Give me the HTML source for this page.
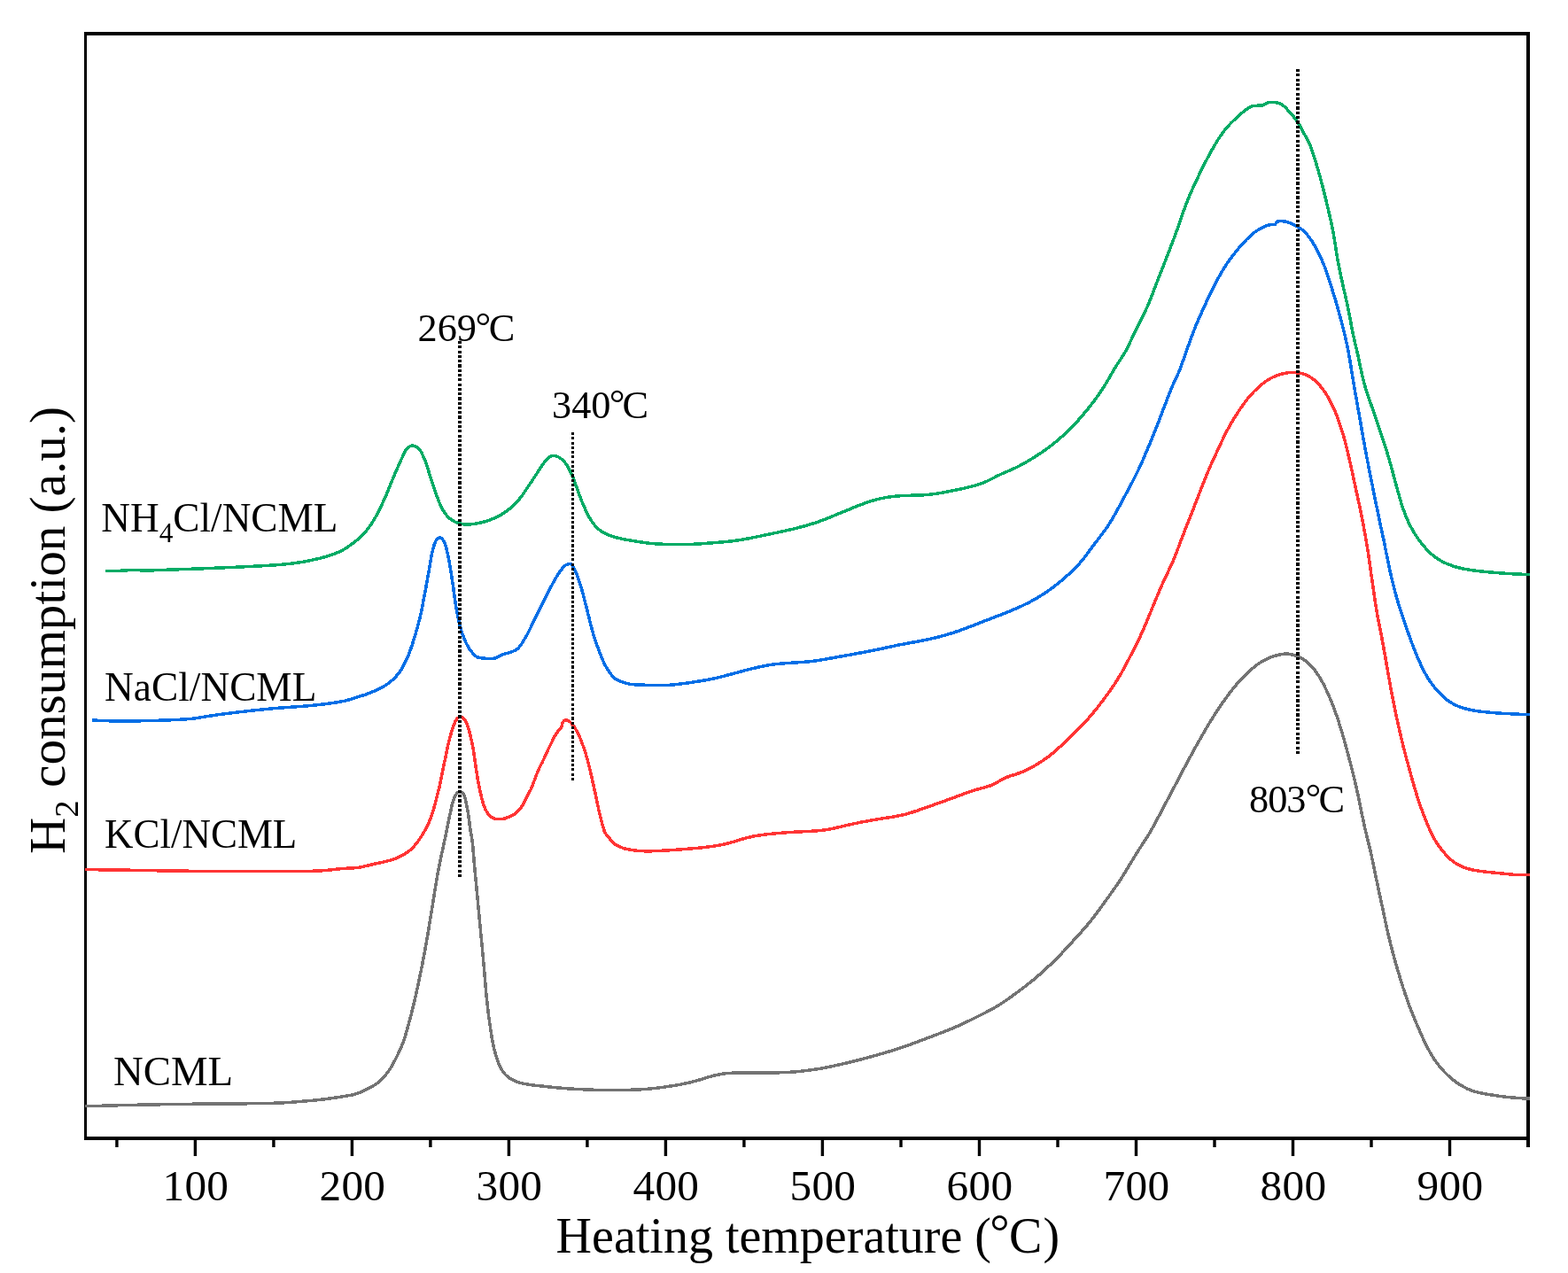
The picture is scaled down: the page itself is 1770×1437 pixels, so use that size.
<!DOCTYPE html>
<html lang="en"><head><meta charset="utf-8"><title>H2-TPR profiles</title>
<style>
html,body{margin:0;padding:0;background:#fff;}
body{width:1770px;height:1437px;overflow:hidden;}
svg{display:block;}
text{font-family:"Liberation Serif",serif;fill:#000;}
.tick{font-size:49.3px;text-anchor:middle;letter-spacing:0.3px;}
</style></head><body>
<svg width="1770" height="1437" viewBox="0 0 1770 1437">
<rect x="0" y="0" width="1770" height="1437" fill="#fff"/>

<g fill="#000">
<rect x="95" y="36" width="3" height="1251"/>
<rect x="95" y="36" width="1632" height="4"/>
<rect x="1723" y="36" width="4" height="1259"/>
<rect x="95" y="1283" width="1632" height="4"/>
<rect x="218.7" y="1285" width="3.4" height="20"/>
<rect x="395.7" y="1285" width="3.4" height="20"/>
<rect x="572.7" y="1285" width="3.4" height="20"/>
<rect x="749.7" y="1285" width="3.4" height="20"/>
<rect x="926.7" y="1285" width="3.4" height="20"/>
<rect x="1103.8" y="1285" width="3.4" height="20"/>
<rect x="1280.8" y="1285" width="3.4" height="20"/>
<rect x="1457.8" y="1285" width="3.4" height="20"/>
<rect x="1634.8" y="1285" width="3.4" height="20"/>
<rect x="130.2" y="1285" width="3.4" height="10"/>
<rect x="307.2" y="1285" width="3.4" height="10"/>
<rect x="484.2" y="1285" width="3.4" height="10"/>
<rect x="661.2" y="1285" width="3.4" height="10"/>
<rect x="838.2" y="1285" width="3.4" height="10"/>
<rect x="1015.3" y="1285" width="3.4" height="10"/>
<rect x="1192.3" y="1285" width="3.4" height="10"/>
<rect x="1369.3" y="1285" width="3.4" height="10"/>
<rect x="1546.3" y="1285" width="3.4" height="10"/>
</g>
<defs><clipPath id="plotclip"><rect x="96" y="36" width="1631" height="1251"/></clipPath></defs>
<g fill="none" stroke-width="3.5" stroke-linejoin="round" stroke-linecap="butt" shape-rendering="crispEdges" clip-path="url(#plotclip)">
<path stroke="#737373" d="M94.0,1248.8 L96.0,1248.7 L98.0,1248.7 L100.0,1248.6 L102.0,1248.6 L104.0,1248.5 L106.0,1248.5 L108.0,1248.4 L110.0,1248.4 L112.0,1248.3 L114.0,1248.3 L116.0,1248.2 L118.0,1248.1 L120.0,1248.1 L122.0,1248.0 L124.0,1248.0 L126.0,1247.9 L128.0,1247.9 L130.0,1247.8 L132.0,1247.8 L134.0,1247.7 L136.0,1247.7 L138.0,1247.7 L140.0,1247.6 L142.0,1247.6 L144.0,1247.5 L146.0,1247.5 L148.0,1247.4 L150.0,1247.4 L152.0,1247.3 L154.0,1247.3 L156.0,1247.2 L158.0,1247.2 L160.0,1247.2 L162.0,1247.1 L164.0,1247.1 L166.0,1247.0 L168.0,1247.0 L170.0,1247.0 L172.0,1246.9 L174.0,1246.9 L176.0,1246.8 L178.0,1246.8 L180.0,1246.8 L182.0,1246.7 L184.0,1246.7 L186.0,1246.7 L188.0,1246.6 L190.0,1246.6 L192.0,1246.6 L194.0,1246.5 L196.0,1246.5 L198.0,1246.5 L200.0,1246.5 L202.0,1246.4 L204.0,1246.4 L206.0,1246.4 L208.0,1246.3 L210.0,1246.3 L212.0,1246.3 L214.0,1246.3 L216.0,1246.3 L218.0,1246.2 L220.0,1246.2 L222.0,1246.2 L224.0,1246.2 L226.0,1246.2 L228.0,1246.1 L230.0,1246.1 L232.0,1246.1 L234.0,1246.1 L236.0,1246.1 L238.0,1246.1 L240.0,1246.1 L242.0,1246.0 L244.0,1246.0 L246.0,1246.0 L248.0,1246.0 L250.0,1246.0 L252.0,1246.0 L254.0,1246.0 L256.0,1246.0 L258.0,1245.9 L260.0,1245.9 L262.0,1245.9 L264.0,1245.9 L266.0,1245.9 L268.0,1245.9 L270.0,1245.8 L272.0,1245.8 L274.0,1245.8 L276.0,1245.8 L278.0,1245.8 L280.0,1245.7 L282.0,1245.7 L284.0,1245.7 L286.0,1245.7 L288.0,1245.7 L290.0,1245.6 L292.0,1245.6 L294.0,1245.6 L296.0,1245.5 L298.0,1245.5 L300.0,1245.5 L302.0,1245.4 L304.0,1245.4 L306.0,1245.3 L308.0,1245.3 L310.0,1245.2 L312.0,1245.2 L314.0,1245.1 L316.0,1245.0 L318.0,1244.9 L320.0,1244.8 L322.0,1244.7 L323.9,1244.6 L325.9,1244.4 L327.9,1244.3 L329.9,1244.2 L331.9,1244.0 L333.9,1243.9 L335.9,1243.7 L337.9,1243.6 L339.9,1243.4 L341.9,1243.2 L343.9,1243.1 L345.9,1242.9 L347.9,1242.7 L349.9,1242.5 L351.9,1242.4 L353.8,1242.2 L355.8,1242.0 L357.8,1241.8 L359.8,1241.6 L361.8,1241.3 L363.8,1241.1 L365.8,1240.9 L367.8,1240.6 L369.7,1240.3 L371.7,1240.1 L373.7,1239.8 L375.7,1239.5 L377.7,1239.2 L379.6,1238.9 L381.6,1238.6 L383.6,1238.3 L385.6,1238.0 L387.5,1237.7 L389.5,1237.3 L391.5,1237.0 L393.5,1236.7 L395.4,1236.3 L397.4,1236.0 L399.3,1235.5 L401.3,1235.0 L403.2,1234.4 L405.0,1233.7 L406.9,1232.9 L408.7,1232.1 L410.5,1231.3 L412.3,1230.4 L414.1,1229.5 L415.9,1228.7 L417.7,1227.7 L419.5,1226.8 L421.2,1225.8 L422.9,1224.8 L424.6,1223.7 L426.2,1222.5 L427.8,1221.3 L429.3,1220.0 L430.7,1218.6 L432.1,1217.1 L433.5,1215.7 L434.7,1214.1 L436.0,1212.6 L437.2,1211.0 L438.4,1209.4 L439.5,1207.7 L440.6,1206.1 L441.7,1204.4 L442.7,1202.6 L443.7,1200.9 L444.6,1199.1 L445.6,1197.4 L446.5,1195.6 L447.4,1193.8 L448.3,1192.0 L449.2,1190.2 L450.0,1188.4 L450.9,1186.6 L451.7,1184.8 L452.5,1182.9 L453.2,1181.1 L454.0,1179.2 L454.7,1177.4 L455.4,1175.5 L456.1,1173.6 L456.7,1171.7 L457.3,1169.8 L457.9,1167.9 L458.5,1166.0 L459.0,1164.1 L459.6,1162.1 L460.1,1160.2 L460.6,1158.3 L461.2,1156.3 L461.7,1154.4 L462.2,1152.5 L462.7,1150.6 L463.2,1148.6 L463.8,1146.7 L464.3,1144.8 L464.7,1142.8 L465.2,1140.9 L465.7,1138.9 L466.2,1137.0 L466.7,1135.0 L467.1,1133.1 L467.6,1131.2 L468.1,1129.2 L468.5,1127.3 L469.0,1125.3 L469.4,1123.4 L469.8,1121.4 L470.3,1119.5 L470.7,1117.5 L471.1,1115.5 L471.5,1113.6 L472.0,1111.6 L472.4,1109.7 L472.8,1107.7 L473.2,1105.8 L473.6,1103.8 L474.0,1101.8 L474.4,1099.9 L474.8,1097.9 L475.2,1096.0 L475.6,1094.0 L476.0,1092.0 L476.4,1090.1 L476.8,1088.1 L477.1,1086.2 L477.5,1084.2 L477.9,1082.2 L478.3,1080.3 L478.6,1078.3 L479.0,1076.3 L479.4,1074.4 L479.8,1072.4 L480.1,1070.4 L480.5,1068.5 L480.8,1066.5 L481.2,1064.5 L481.5,1062.6 L481.9,1060.6 L482.2,1058.6 L482.6,1056.7 L482.9,1054.7 L483.2,1052.7 L483.6,1050.7 L483.9,1048.8 L484.2,1046.8 L484.5,1044.8 L484.8,1042.8 L485.2,1040.9 L485.5,1038.9 L485.8,1036.9 L486.1,1034.9 L486.4,1033.0 L486.7,1031.0 L487.1,1029.0 L487.4,1027.0 L487.7,1025.1 L488.0,1023.1 L488.4,1021.1 L488.7,1019.2 L489.0,1017.2 L489.3,1015.2 L489.6,1013.2 L490.0,1011.3 L490.3,1009.3 L490.6,1007.3 L490.9,1005.3 L491.2,1003.4 L491.6,1001.4 L491.9,999.4 L492.2,997.4 L492.5,995.5 L492.9,993.5 L493.2,991.5 L493.5,989.5 L493.9,987.6 L494.2,985.6 L494.6,983.6 L495.0,981.7 L495.3,979.7 L495.7,977.7 L496.1,975.8 L496.5,973.8 L496.9,971.9 L497.3,969.9 L497.7,968.0 L498.1,966.0 L498.6,964.0 L499.0,962.1 L499.4,960.1 L499.8,958.2 L500.3,956.2 L500.7,954.3 L501.1,952.3 L501.5,950.4 L501.9,948.4 L502.4,946.4 L502.8,944.5 L503.2,942.5 L503.6,940.6 L504.0,938.6 L504.4,936.7 L504.8,934.7 L505.2,932.7 L505.6,930.8 L506.0,928.8 L506.4,926.9 L506.8,924.9 L507.2,922.9 L507.6,921.0 L508.0,919.0 L508.4,917.1 L508.8,915.1 L509.2,913.1 L509.7,911.2 L510.1,909.3 L510.6,907.3 L511.2,905.4 L511.8,903.5 L512.4,901.6 L513.1,899.7 L514.0,897.9 L515.1,896.3 L516.5,894.9 L518.1,893.9 L519.9,893.9 L521.6,894.8 L523.0,896.2 L524.0,897.8 L524.6,899.7 L525.1,901.6 L525.6,903.6 L526.0,905.5 L526.4,907.5 L526.8,909.5 L527.2,911.4 L527.6,913.4 L527.9,915.4 L528.3,917.3 L528.6,919.3 L528.9,921.3 L529.2,923.3 L529.5,925.2 L529.7,927.2 L530.0,929.2 L530.2,931.2 L530.5,933.2 L530.8,935.2 L531.0,937.1 L531.4,939.1 L531.7,941.1 L532.1,943.0 L532.4,945.0 L532.8,947.0 L533.0,949.0 L533.3,950.9 L533.5,952.9 L533.7,954.9 L533.9,956.9 L534.1,958.9 L534.2,960.9 L534.4,962.9 L534.6,964.9 L534.7,966.9 L534.9,968.9 L535.0,970.9 L535.2,972.9 L535.4,974.9 L535.5,976.8 L535.7,978.8 L535.9,980.8 L536.1,982.8 L536.3,984.8 L536.5,986.8 L536.6,988.8 L536.8,990.8 L537.0,992.8 L537.2,994.8 L537.4,996.8 L537.6,998.8 L537.8,1000.7 L538.0,1002.7 L538.2,1004.7 L538.3,1006.7 L538.5,1008.7 L538.7,1010.7 L538.9,1012.7 L539.1,1014.7 L539.3,1016.7 L539.5,1018.7 L539.7,1020.7 L539.8,1022.6 L540.0,1024.6 L540.2,1026.6 L540.4,1028.6 L540.6,1030.6 L540.8,1032.6 L541.0,1034.6 L541.2,1036.6 L541.3,1038.6 L541.5,1040.6 L541.7,1042.6 L541.9,1044.5 L542.1,1046.5 L542.3,1048.5 L542.5,1050.5 L542.7,1052.5 L542.8,1054.5 L543.0,1056.5 L543.2,1058.5 L543.4,1060.5 L543.6,1062.5 L543.8,1064.5 L544.0,1066.5 L544.2,1068.4 L544.4,1070.4 L544.5,1072.4 L544.7,1074.4 L544.9,1076.4 L545.1,1078.4 L545.3,1080.4 L545.5,1082.4 L545.7,1084.4 L545.8,1086.4 L546.0,1088.4 L546.2,1090.3 L546.4,1092.3 L546.5,1094.3 L546.7,1096.3 L546.9,1098.3 L547.0,1100.3 L547.2,1102.3 L547.4,1104.3 L547.5,1106.3 L547.7,1108.3 L547.9,1110.3 L548.0,1112.3 L548.2,1114.3 L548.4,1116.3 L548.6,1118.2 L548.7,1120.2 L548.9,1122.2 L549.1,1124.2 L549.3,1126.2 L549.5,1128.2 L549.7,1130.2 L550.0,1132.2 L550.2,1134.2 L550.4,1136.2 L550.6,1138.1 L550.9,1140.1 L551.1,1142.1 L551.3,1144.1 L551.6,1146.1 L551.8,1148.1 L552.1,1150.0 L552.4,1152.0 L552.6,1154.0 L552.9,1156.0 L553.2,1158.0 L553.5,1160.0 L553.8,1161.9 L554.1,1163.9 L554.4,1165.9 L554.7,1167.9 L555.0,1169.8 L555.3,1171.8 L555.7,1173.8 L556.1,1175.7 L556.5,1177.7 L556.9,1179.7 L557.3,1181.6 L557.7,1183.6 L558.2,1185.5 L558.7,1187.4 L559.2,1189.4 L559.8,1191.3 L560.4,1193.2 L561.0,1195.1 L561.7,1197.0 L562.3,1198.9 L563.0,1200.7 L563.8,1202.6 L564.6,1204.4 L565.6,1206.2 L566.6,1207.9 L567.7,1209.6 L568.9,1211.2 L570.2,1212.7 L571.6,1214.1 L573.1,1215.4 L574.7,1216.6 L576.4,1217.7 L578.1,1218.7 L579.9,1219.6 L581.7,1220.5 L583.5,1221.2 L585.4,1221.9 L587.3,1222.4 L589.3,1222.9 L591.2,1223.3 L593.2,1223.6 L595.2,1224.0 L597.1,1224.3 L599.1,1224.6 L601.1,1224.9 L603.1,1225.1 L605.1,1225.4 L607.1,1225.6 L609.1,1225.8 L611.0,1226.0 L613.0,1226.2 L615.0,1226.4 L617.0,1226.6 L619.0,1226.9 L621.0,1227.1 L623.0,1227.3 L625.0,1227.5 L627.0,1227.7 L628.9,1227.8 L630.9,1228.0 L632.9,1228.2 L634.9,1228.4 L636.9,1228.5 L638.9,1228.7 L640.9,1228.8 L642.9,1229.0 L644.9,1229.1 L646.9,1229.2 L648.9,1229.3 L650.9,1229.4 L652.9,1229.5 L654.9,1229.6 L656.9,1229.7 L658.9,1229.8 L660.9,1229.9 L662.9,1230.0 L664.9,1230.1 L666.9,1230.2 L668.9,1230.2 L670.9,1230.3 L672.9,1230.4 L674.9,1230.4 L676.9,1230.4 L678.9,1230.5 L680.9,1230.5 L682.9,1230.5 L684.9,1230.5 L686.9,1230.5 L688.9,1230.5 L690.9,1230.5 L692.9,1230.5 L694.9,1230.5 L696.9,1230.4 L698.9,1230.4 L700.9,1230.4 L702.9,1230.4 L704.9,1230.4 L706.9,1230.3 L708.9,1230.3 L710.9,1230.3 L712.9,1230.2 L714.9,1230.2 L716.9,1230.2 L718.9,1230.1 L720.9,1230.0 L722.9,1229.9 L724.9,1229.7 L726.8,1229.6 L728.8,1229.4 L730.8,1229.3 L732.8,1229.1 L734.8,1228.9 L736.8,1228.7 L738.8,1228.5 L740.8,1228.3 L742.8,1228.0 L744.8,1227.8 L746.7,1227.5 L748.7,1227.3 L750.7,1227.0 L752.7,1226.7 L754.7,1226.4 L756.6,1226.1 L758.6,1225.8 L760.6,1225.5 L762.6,1225.2 L764.5,1224.8 L766.5,1224.5 L768.5,1224.1 L770.4,1223.7 L772.4,1223.3 L774.3,1222.9 L776.3,1222.5 L778.2,1222.0 L780.2,1221.6 L782.1,1221.1 L784.0,1220.5 L786.0,1220.0 L787.9,1219.5 L789.8,1218.9 L791.7,1218.3 L793.6,1217.7 L795.5,1217.1 L797.4,1216.5 L799.4,1216.0 L801.3,1215.4 L803.2,1214.9 L805.1,1214.4 L807.1,1213.9 L809.0,1213.4 L811.0,1213.0 L812.9,1212.7 L814.9,1212.3 L816.9,1212.0 L818.8,1211.8 L820.8,1211.6 L822.8,1211.4 L824.8,1211.3 L826.8,1211.2 L828.8,1211.1 L830.8,1211.0 L832.8,1211.0 L834.8,1211.0 L836.8,1210.9 L838.8,1210.9 L840.8,1210.9 L842.8,1210.8 L844.8,1210.8 L846.8,1210.8 L848.8,1210.8 L850.8,1210.8 L852.8,1210.8 L854.8,1210.8 L856.8,1210.8 L858.8,1210.8 L860.8,1210.8 L862.8,1210.8 L864.8,1210.8 L866.8,1210.8 L868.8,1210.8 L870.8,1210.8 L872.8,1210.8 L874.8,1210.8 L876.8,1210.8 L878.8,1210.8 L880.8,1210.7 L882.8,1210.7 L884.8,1210.6 L886.8,1210.6 L888.8,1210.5 L890.8,1210.4 L892.8,1210.2 L894.8,1210.1 L896.8,1209.9 L898.8,1209.8 L900.7,1209.6 L902.7,1209.4 L904.7,1209.2 L906.7,1208.9 L908.7,1208.7 L910.7,1208.5 L912.7,1208.2 L914.6,1208.0 L916.6,1207.7 L918.6,1207.4 L920.6,1207.1 L922.6,1206.8 L924.5,1206.5 L926.5,1206.1 L928.5,1205.8 L930.4,1205.4 L932.4,1205.0 L934.4,1204.6 L936.3,1204.2 L938.3,1203.8 L940.2,1203.4 L942.2,1203.0 L944.1,1202.6 L946.1,1202.1 L948.0,1201.7 L950.0,1201.3 L951.9,1200.8 L953.9,1200.4 L955.8,1199.9 L957.8,1199.4 L959.7,1199.0 L961.7,1198.5 L963.6,1198.0 L965.6,1197.5 L967.5,1197.0 L969.4,1196.5 L971.4,1196.0 L973.3,1195.5 L975.2,1195.0 L977.2,1194.5 L979.1,1194.0 L981.0,1193.4 L982.9,1192.9 L984.9,1192.4 L986.8,1191.8 L988.7,1191.3 L990.6,1190.7 L992.6,1190.2 L994.5,1189.6 L996.4,1189.1 L998.3,1188.5 L1000.2,1187.9 L1002.2,1187.4 L1004.1,1186.8 L1006.0,1186.2 L1007.9,1185.6 L1009.8,1185.0 L1011.7,1184.4 L1013.6,1183.8 L1015.5,1183.1 L1017.4,1182.5 L1019.3,1181.9 L1021.2,1181.2 L1023.1,1180.6 L1025.0,1179.9 L1026.9,1179.3 L1028.7,1178.6 L1030.6,1177.9 L1032.5,1177.2 L1034.4,1176.5 L1036.3,1175.8 L1038.1,1175.1 L1040.0,1174.4 L1041.9,1173.7 L1043.8,1173.0 L1045.6,1172.3 L1047.5,1171.6 L1049.4,1170.9 L1051.2,1170.2 L1053.1,1169.5 L1055.0,1168.8 L1056.8,1168.0 L1058.7,1167.3 L1060.6,1166.6 L1062.4,1165.9 L1064.3,1165.2 L1066.2,1164.4 L1068.0,1163.7 L1069.9,1162.9 L1071.7,1162.2 L1073.6,1161.4 L1075.4,1160.7 L1077.3,1159.9 L1079.1,1159.1 L1080.9,1158.3 L1082.8,1157.5 L1084.6,1156.7 L1086.4,1155.9 L1088.2,1155.0 L1090.0,1154.2 L1091.8,1153.3 L1093.6,1152.4 L1095.4,1151.6 L1097.2,1150.7 L1099.0,1149.8 L1100.8,1148.9 L1102.6,1148.0 L1104.4,1147.1 L1106.2,1146.2 L1108.0,1145.3 L1109.7,1144.4 L1111.5,1143.5 L1113.3,1142.6 L1115.1,1141.6 L1116.8,1140.7 L1118.6,1139.7 L1120.3,1138.8 L1122.1,1137.8 L1123.8,1136.8 L1125.5,1135.8 L1127.3,1134.8 L1128.9,1133.7 L1130.6,1132.6 L1132.3,1131.5 L1134.0,1130.4 L1135.6,1129.3 L1137.3,1128.2 L1138.9,1127.0 L1140.5,1125.8 L1142.1,1124.7 L1143.7,1123.5 L1145.4,1122.3 L1147.0,1121.1 L1148.6,1119.9 L1150.2,1118.7 L1151.8,1117.5 L1153.4,1116.3 L1155.0,1115.1 L1156.6,1113.9 L1158.1,1112.7 L1159.7,1111.4 L1161.3,1110.2 L1162.9,1109.0 L1164.4,1107.7 L1166.0,1106.5 L1167.5,1105.2 L1169.0,1103.9 L1170.6,1102.6 L1172.1,1101.3 L1173.6,1100.0 L1175.1,1098.7 L1176.6,1097.3 L1178.1,1096.0 L1179.5,1094.7 L1181.0,1093.3 L1182.5,1091.9 L1183.9,1090.6 L1185.4,1089.2 L1186.8,1087.8 L1188.3,1086.4 L1189.7,1085.0 L1191.1,1083.6 L1192.5,1082.2 L1193.9,1080.8 L1195.4,1079.4 L1196.7,1077.9 L1198.1,1076.5 L1199.5,1075.0 L1200.9,1073.6 L1202.3,1072.1 L1203.6,1070.7 L1205.0,1069.2 L1206.3,1067.7 L1207.7,1066.2 L1209.0,1064.7 L1210.3,1063.3 L1211.7,1061.8 L1213.0,1060.3 L1214.4,1058.8 L1215.7,1057.3 L1217.1,1055.9 L1218.4,1054.4 L1219.8,1052.9 L1221.1,1051.4 L1222.4,1049.9 L1223.8,1048.4 L1225.1,1046.9 L1226.4,1045.4 L1227.6,1043.9 L1228.9,1042.3 L1230.2,1040.8 L1231.4,1039.2 L1232.7,1037.6 L1233.9,1036.1 L1235.1,1034.5 L1236.3,1032.9 L1237.5,1031.3 L1238.7,1029.7 L1239.9,1028.1 L1241.1,1026.5 L1242.3,1024.9 L1243.5,1023.3 L1244.7,1021.6 L1245.8,1020.0 L1247.0,1018.4 L1248.2,1016.8 L1249.3,1015.1 L1250.5,1013.5 L1251.7,1011.9 L1252.8,1010.3 L1254.0,1008.6 L1255.1,1007.0 L1256.3,1005.4 L1257.4,1003.7 L1258.6,1002.1 L1259.7,1000.5 L1260.9,998.8 L1262.0,997.2 L1263.1,995.5 L1264.2,993.9 L1265.3,992.2 L1266.4,990.5 L1267.5,988.8 L1268.5,987.1 L1269.6,985.4 L1270.6,983.7 L1271.6,982.0 L1272.7,980.3 L1273.7,978.5 L1274.7,976.8 L1275.8,975.1 L1276.8,973.4 L1277.9,971.7 L1278.9,970.0 L1280.0,968.3 L1281.0,966.6 L1282.1,964.9 L1283.1,963.2 L1284.2,961.5 L1285.2,959.8 L1286.3,958.1 L1287.4,956.4 L1288.5,954.8 L1289.5,953.1 L1290.6,951.4 L1291.7,949.7 L1292.8,948.0 L1293.9,946.4 L1295.0,944.7 L1296.0,943.0 L1297.1,941.3 L1298.1,939.6 L1299.1,937.8 L1300.1,936.1 L1301.1,934.4 L1302.1,932.6 L1303.0,930.9 L1304.0,929.1 L1304.9,927.3 L1305.9,925.6 L1306.8,923.8 L1307.7,922.0 L1308.7,920.3 L1309.6,918.5 L1310.5,916.7 L1311.4,915.0 L1312.4,913.2 L1313.3,911.4 L1314.3,909.7 L1315.2,907.9 L1316.1,906.1 L1317.1,904.4 L1318.0,902.6 L1318.9,900.8 L1319.9,899.1 L1320.8,897.3 L1321.7,895.5 L1322.7,893.8 L1323.6,892.0 L1324.5,890.2 L1325.5,888.4 L1326.4,886.7 L1327.3,884.9 L1328.3,883.1 L1329.2,881.4 L1330.1,879.6 L1331.1,877.8 L1332.0,876.0 L1332.9,874.3 L1333.8,872.5 L1334.8,870.7 L1335.7,869.0 L1336.6,867.2 L1337.6,865.4 L1338.5,863.7 L1339.5,861.9 L1340.4,860.1 L1341.4,858.4 L1342.3,856.6 L1343.3,854.9 L1344.2,853.1 L1345.2,851.4 L1346.1,849.6 L1347.1,847.8 L1348.1,846.1 L1349.0,844.3 L1350.0,842.6 L1351.0,840.9 L1352.0,839.1 L1353.0,837.4 L1353.9,835.6 L1354.9,833.9 L1355.9,832.2 L1356.9,830.4 L1357.9,828.7 L1358.9,826.9 L1359.9,825.2 L1360.9,823.5 L1361.9,821.8 L1362.9,820.0 L1364.0,818.3 L1365.0,816.6 L1366.0,814.9 L1367.1,813.2 L1368.1,811.5 L1369.2,809.8 L1370.2,808.1 L1371.3,806.4 L1372.4,804.7 L1373.5,803.1 L1374.6,801.4 L1375.7,799.7 L1376.8,798.1 L1378.0,796.4 L1379.1,794.8 L1380.2,793.1 L1381.4,791.5 L1382.5,789.9 L1383.7,788.2 L1384.9,786.6 L1386.1,785.0 L1387.2,783.4 L1388.4,781.8 L1389.7,780.2 L1390.9,778.6 L1392.1,777.1 L1393.4,775.5 L1394.7,774.0 L1395.9,772.4 L1397.2,770.9 L1398.6,769.4 L1399.9,767.9 L1401.3,766.5 L1402.6,765.0 L1404.0,763.6 L1405.4,762.2 L1406.9,760.8 L1408.3,759.4 L1409.8,758.1 L1411.3,756.7 L1412.8,755.4 L1414.3,754.1 L1415.9,752.9 L1417.4,751.6 L1419.0,750.4 L1420.7,749.2 L1422.3,748.1 L1424.0,747.1 L1425.7,746.1 L1427.5,745.1 L1429.3,744.2 L1431.1,743.3 L1432.9,742.5 L1434.8,741.8 L1436.6,741.1 L1438.6,740.5 L1440.5,740.0 L1442.4,739.5 L1444.3,739.0 L1446.3,738.6 L1448.3,738.3 L1450.3,738.1 L1452.3,738.1 L1454.3,738.2 L1456.2,738.5 L1458.2,738.9 L1460.1,739.4 L1462.0,740.0 L1463.9,740.6 L1465.8,741.3 L1467.6,742.1 L1469.4,743.1 L1471.0,744.1 L1472.7,745.3 L1474.2,746.5 L1475.8,747.8 L1477.3,749.1 L1478.7,750.5 L1480.1,751.9 L1481.4,753.4 L1482.7,754.9 L1484.0,756.4 L1485.2,758.0 L1486.3,759.6 L1487.5,761.3 L1488.6,762.9 L1489.6,764.6 L1490.7,766.3 L1491.7,768.1 L1492.6,769.8 L1493.6,771.6 L1494.5,773.3 L1495.4,775.1 L1496.2,776.9 L1497.1,778.7 L1497.9,780.5 L1498.8,782.4 L1499.6,784.2 L1500.4,786.0 L1501.2,787.9 L1501.9,789.7 L1502.7,791.6 L1503.4,793.4 L1504.2,795.3 L1504.9,797.1 L1505.6,799.0 L1506.3,800.9 L1507.0,802.7 L1507.7,804.6 L1508.3,806.5 L1509.0,808.4 L1509.6,810.3 L1510.3,812.2 L1510.9,814.1 L1511.5,816.0 L1512.1,817.9 L1512.7,819.8 L1513.3,821.7 L1513.9,823.6 L1514.5,825.5 L1515.1,827.5 L1515.6,829.4 L1516.2,831.3 L1516.7,833.2 L1517.3,835.1 L1517.8,837.1 L1518.4,839.0 L1518.9,840.9 L1519.4,842.9 L1519.9,844.8 L1520.4,846.7 L1521.0,848.7 L1521.5,850.6 L1522.0,852.5 L1522.5,854.5 L1523.0,856.4 L1523.5,858.3 L1524.0,860.3 L1524.5,862.2 L1525.0,864.1 L1525.5,866.1 L1526.0,868.0 L1526.5,869.9 L1527.0,871.9 L1527.5,873.8 L1527.9,875.8 L1528.4,877.7 L1528.9,879.7 L1529.4,881.6 L1529.8,883.5 L1530.3,885.5 L1530.7,887.4 L1531.2,889.4 L1531.6,891.3 L1532.0,893.3 L1532.4,895.3 L1532.9,897.2 L1533.3,899.2 L1533.7,901.1 L1534.1,903.1 L1534.5,905.0 L1534.9,907.0 L1535.3,909.0 L1535.7,910.9 L1536.1,912.9 L1536.5,914.8 L1536.9,916.8 L1537.3,918.7 L1537.7,920.7 L1538.2,922.7 L1538.6,924.6 L1539.0,926.6 L1539.4,928.5 L1539.8,930.5 L1540.3,932.4 L1540.7,934.4 L1541.1,936.3 L1541.6,938.3 L1542.0,940.2 L1542.5,942.2 L1543.0,944.1 L1543.4,946.1 L1543.9,948.0 L1544.4,950.0 L1544.9,951.9 L1545.4,953.8 L1545.8,955.8 L1546.3,957.7 L1546.8,959.7 L1547.2,961.6 L1547.7,963.6 L1548.1,965.5 L1548.5,967.5 L1548.9,969.4 L1549.3,971.4 L1549.8,973.3 L1550.1,975.3 L1550.5,977.3 L1550.9,979.2 L1551.3,981.2 L1551.7,983.1 L1552.1,985.1 L1552.5,987.1 L1552.9,989.0 L1553.3,991.0 L1553.7,992.9 L1554.2,994.9 L1554.6,996.9 L1555.0,998.8 L1555.4,1000.8 L1555.8,1002.7 L1556.3,1004.7 L1556.7,1006.6 L1557.1,1008.6 L1557.5,1010.5 L1558.0,1012.5 L1558.4,1014.4 L1558.8,1016.4 L1559.2,1018.4 L1559.6,1020.3 L1560.1,1022.3 L1560.5,1024.2 L1560.9,1026.2 L1561.3,1028.1 L1561.7,1030.1 L1562.1,1032.0 L1562.5,1034.0 L1563.0,1036.0 L1563.4,1037.9 L1563.8,1039.9 L1564.2,1041.8 L1564.6,1043.8 L1565.1,1045.7 L1565.5,1047.7 L1565.9,1049.6 L1566.4,1051.6 L1566.8,1053.5 L1567.3,1055.5 L1567.7,1057.4 L1568.2,1059.4 L1568.7,1061.3 L1569.2,1063.3 L1569.6,1065.2 L1570.1,1067.1 L1570.6,1069.1 L1571.1,1071.0 L1571.6,1073.0 L1572.1,1074.9 L1572.6,1076.8 L1573.2,1078.8 L1573.7,1080.7 L1574.2,1082.6 L1574.7,1084.5 L1575.3,1086.5 L1575.8,1088.4 L1576.4,1090.3 L1576.9,1092.2 L1577.5,1094.2 L1578.0,1096.1 L1578.6,1098.0 L1579.2,1099.9 L1579.8,1101.8 L1580.4,1103.7 L1580.9,1105.7 L1581.5,1107.6 L1582.1,1109.5 L1582.7,1111.4 L1583.3,1113.3 L1583.9,1115.2 L1584.6,1117.1 L1585.2,1119.0 L1585.8,1120.9 L1586.4,1122.8 L1587.1,1124.7 L1587.7,1126.6 L1588.4,1128.5 L1589.1,1130.3 L1589.7,1132.2 L1590.4,1134.1 L1591.1,1136.0 L1591.8,1137.8 L1592.6,1139.7 L1593.3,1141.6 L1594.0,1143.4 L1594.8,1145.3 L1595.5,1147.1 L1596.3,1149.0 L1597.1,1150.8 L1597.8,1152.7 L1598.6,1154.5 L1599.4,1156.4 L1600.2,1158.2 L1601.0,1160.0 L1601.8,1161.9 L1602.6,1163.7 L1603.4,1165.5 L1604.2,1167.4 L1605.0,1169.2 L1605.8,1171.0 L1606.6,1172.8 L1607.5,1174.7 L1608.3,1176.5 L1609.2,1178.3 L1610.1,1180.1 L1611.0,1181.8 L1611.9,1183.6 L1612.9,1185.4 L1613.8,1187.1 L1614.8,1188.8 L1615.8,1190.6 L1616.9,1192.3 L1617.9,1194.0 L1619.0,1195.6 L1620.1,1197.3 L1621.3,1198.9 L1622.5,1200.5 L1623.7,1202.1 L1624.9,1203.7 L1626.2,1205.2 L1627.5,1206.7 L1628.8,1208.2 L1630.2,1209.7 L1631.6,1211.1 L1633.0,1212.5 L1634.4,1213.9 L1635.9,1215.3 L1637.4,1216.6 L1638.9,1217.9 L1640.5,1219.1 L1642.0,1220.3 L1643.6,1221.5 L1645.3,1222.7 L1646.9,1223.8 L1648.6,1224.8 L1650.3,1225.8 L1652.1,1226.8 L1653.8,1227.7 L1655.6,1228.6 L1657.4,1229.5 L1659.2,1230.2 L1661.1,1230.9 L1663.0,1231.6 L1664.9,1232.2 L1666.8,1232.7 L1668.7,1233.2 L1670.7,1233.6 L1672.6,1234.0 L1674.6,1234.4 L1676.5,1234.8 L1678.5,1235.1 L1680.5,1235.5 L1682.5,1235.8 L1684.4,1236.1 L1686.4,1236.4 L1688.4,1236.7 L1690.4,1237.0 L1692.3,1237.3 L1694.3,1237.6 L1696.3,1237.8 L1698.3,1238.1 L1700.3,1238.3 L1702.3,1238.5 L1704.3,1238.7 L1706.2,1238.9 L1708.2,1239.1 L1710.2,1239.2 L1712.2,1239.4 L1714.2,1239.5 L1716.2,1239.6 L1718.2,1239.8 L1720.1,1239.9 L1722.0,1240.0 L1723.9,1240.1 L1725.7,1240.1 L1727.4,1240.2 L1729.0,1240.2"/>
<path stroke="#ff3434" d="M94.0,981.5 L96.0,981.5 L98.0,981.6 L100.0,981.6 L102.0,981.6 L104.0,981.6 L106.0,981.7 L108.0,981.7 L110.0,981.7 L112.0,981.8 L114.0,981.8 L116.0,981.8 L118.0,981.8 L120.0,981.9 L122.0,981.9 L124.0,981.9 L126.0,982.0 L128.0,982.0 L130.0,982.0 L132.0,982.0 L134.0,982.1 L136.0,982.1 L138.0,982.1 L140.0,982.2 L142.0,982.2 L144.0,982.2 L146.0,982.2 L148.0,982.3 L150.0,982.3 L152.0,982.3 L154.0,982.4 L156.0,982.4 L158.0,982.4 L160.0,982.5 L162.0,982.5 L164.0,982.5 L166.0,982.6 L168.0,982.6 L170.0,982.6 L172.0,982.7 L174.0,982.7 L176.0,982.7 L178.0,982.8 L180.0,982.8 L182.0,982.8 L184.0,982.9 L186.0,982.9 L188.0,982.9 L190.0,983.0 L192.0,983.0 L194.0,983.0 L196.0,983.1 L198.0,983.1 L200.0,983.1 L202.0,983.1 L204.0,983.2 L206.0,983.2 L208.0,983.2 L210.0,983.2 L212.0,983.2 L214.0,983.3 L216.0,983.3 L218.0,983.3 L220.0,983.3 L222.0,983.3 L224.0,983.3 L226.0,983.3 L228.0,983.3 L230.0,983.3 L232.0,983.3 L234.0,983.4 L236.0,983.4 L238.0,983.4 L240.0,983.4 L242.0,983.4 L244.0,983.4 L246.0,983.4 L248.0,983.4 L250.0,983.4 L252.0,983.4 L254.0,983.4 L256.0,983.4 L258.0,983.4 L260.0,983.4 L262.0,983.4 L264.0,983.5 L266.0,983.5 L268.0,983.5 L270.0,983.5 L272.0,983.5 L274.0,983.5 L276.0,983.5 L278.0,983.5 L280.0,983.5 L282.0,983.5 L284.0,983.5 L286.0,983.5 L288.0,983.5 L290.0,983.5 L292.0,983.5 L294.0,983.5 L296.0,983.5 L298.0,983.5 L300.0,983.5 L302.0,983.5 L304.0,983.5 L306.0,983.5 L308.0,983.5 L310.0,983.5 L312.0,983.5 L314.0,983.5 L316.0,983.5 L318.0,983.5 L320.0,983.5 L322.0,983.5 L324.0,983.5 L326.0,983.5 L328.0,983.4 L330.0,983.4 L332.0,983.4 L334.0,983.4 L336.0,983.4 L338.0,983.4 L340.0,983.4 L342.0,983.4 L344.0,983.4 L346.0,983.4 L348.0,983.3 L350.0,983.3 L352.0,983.3 L354.0,983.2 L356.0,983.2 L358.0,983.1 L360.0,983.0 L362.0,982.9 L364.0,982.8 L366.0,982.6 L368.0,982.5 L369.9,982.3 L371.9,982.1 L373.9,981.9 L375.9,981.7 L377.9,981.5 L379.9,981.2 L381.9,981.0 L383.9,980.8 L385.9,980.6 L387.8,980.5 L389.8,980.3 L391.8,980.2 L393.8,980.1 L395.8,980.0 L397.8,979.9 L399.8,979.8 L401.8,979.6 L403.8,979.4 L405.8,979.1 L407.7,978.7 L409.7,978.3 L411.7,977.9 L413.6,977.4 L415.6,977.0 L417.5,976.5 L419.4,976.0 L421.4,975.6 L423.3,975.1 L425.3,974.7 L427.2,974.3 L429.2,973.9 L431.2,973.4 L433.1,973.0 L435.1,972.5 L437.0,972.1 L438.9,971.5 L440.9,971.0 L442.8,970.4 L444.7,969.8 L446.5,969.1 L448.4,968.3 L450.2,967.5 L452.0,966.6 L453.8,965.7 L455.5,964.7 L457.2,963.7 L458.9,962.6 L460.5,961.4 L462.2,960.3 L463.7,959.0 L465.2,957.7 L466.6,956.2 L467.9,954.7 L469.1,953.2 L470.4,951.6 L471.6,950.0 L472.8,948.4 L473.9,946.7 L475.0,945.1 L476.1,943.4 L477.1,941.7 L478.2,940.0 L479.2,938.2 L480.2,936.5 L481.1,934.7 L482.0,933.0 L482.9,931.2 L483.7,929.4 L484.5,927.5 L485.3,925.7 L486.1,923.8 L486.8,921.9 L487.4,920.1 L488.1,918.2 L488.6,916.3 L489.2,914.3 L489.8,912.4 L490.3,910.5 L490.8,908.6 L491.3,906.6 L491.8,904.7 L492.3,902.7 L492.8,900.8 L493.3,898.9 L493.8,896.9 L494.3,895.0 L494.8,893.1 L495.3,891.1 L495.8,889.2 L496.2,887.2 L496.7,885.3 L497.1,883.3 L497.5,881.4 L497.9,879.4 L498.3,877.4 L498.6,875.5 L499.0,873.5 L499.4,871.6 L499.8,869.6 L500.2,867.6 L500.5,865.7 L500.9,863.7 L501.4,861.7 L501.8,859.8 L502.3,857.8 L502.7,855.9 L503.2,853.9 L503.6,852.0 L503.9,850.0 L504.3,848.1 L504.7,846.1 L505.1,844.1 L505.5,842.2 L505.9,840.2 L506.4,838.3 L506.9,836.3 L507.4,834.4 L507.9,832.5 L508.4,830.6 L509.0,828.6 L509.6,826.7 L510.2,824.8 L510.8,822.9 L511.4,821.0 L512.1,819.1 L512.8,817.2 L513.5,815.4 L514.4,813.6 L515.5,811.9 L516.8,810.5 L518.4,809.3 L520.2,809.0 L521.9,809.6 L523.4,810.9 L524.5,812.5 L525.5,814.2 L526.4,816.0 L527.2,817.8 L527.9,819.7 L528.5,821.6 L529.2,823.5 L529.7,825.4 L530.2,827.3 L530.7,829.3 L531.2,831.2 L531.6,833.2 L532.1,835.1 L532.5,837.1 L532.9,839.0 L533.4,841.0 L533.7,843.0 L534.1,844.9 L534.5,846.9 L534.8,848.9 L535.0,850.9 L535.3,852.8 L535.6,854.8 L535.9,856.8 L536.1,858.8 L536.4,860.8 L536.7,862.7 L537.0,864.7 L537.3,866.7 L537.6,868.7 L537.9,870.6 L538.2,872.6 L538.5,874.6 L538.8,876.6 L539.1,878.6 L539.4,880.5 L539.8,882.5 L540.2,884.5 L540.6,886.4 L541.0,888.4 L541.4,890.3 L541.8,892.3 L542.2,894.2 L542.7,896.2 L543.1,898.1 L543.6,900.1 L544.0,902.0 L544.6,904.0 L545.1,905.9 L545.7,907.8 L546.4,909.7 L547.1,911.6 L547.9,913.4 L548.8,915.2 L549.7,916.9 L550.8,918.6 L552.1,920.2 L553.5,921.6 L555.1,922.7 L556.8,923.6 L558.7,924.2 L560.7,924.5 L562.7,924.5 L564.7,924.5 L566.7,924.4 L568.6,924.2 L570.6,923.7 L572.4,923.0 L574.3,922.3 L576.2,921.5 L578.0,920.7 L579.7,919.7 L581.4,918.6 L582.9,917.4 L584.4,916.0 L585.7,914.5 L587.0,913.0 L588.2,911.4 L589.4,909.7 L590.4,908.0 L591.4,906.3 L592.4,904.6 L593.3,902.8 L594.1,901.0 L595.0,899.2 L595.9,897.4 L596.8,895.6 L597.7,893.8 L598.7,892.1 L599.6,890.3 L600.4,888.4 L601.2,886.6 L601.9,884.7 L602.5,882.8 L603.2,881.0 L603.9,879.1 L604.6,877.2 L605.3,875.3 L606.0,873.5 L606.8,871.6 L607.5,869.8 L608.3,867.9 L609.2,866.1 L610.1,864.4 L611.0,862.6 L612.0,860.8 L612.8,859.0 L613.7,857.2 L614.5,855.4 L615.3,853.5 L616.1,851.7 L616.9,849.9 L617.8,848.1 L618.6,846.3 L619.5,844.5 L620.4,842.7 L621.3,840.9 L622.2,839.1 L623.1,837.3 L623.9,835.5 L624.8,833.7 L625.7,831.9 L626.7,830.2 L627.8,828.5 L628.9,826.8 L630.0,825.2 L631.3,823.7 L632.7,822.3 L633.8,820.7 L634.4,818.8 L634.8,816.9 L635.5,815.1 L636.7,813.7 L638.4,812.9 L640.3,813.1 L642.1,813.9 L643.6,815.1 L645.0,816.5 L646.3,818.0 L647.5,819.6 L648.6,821.3 L649.7,823.0 L650.7,824.7 L651.7,826.4 L652.6,828.2 L653.5,830.0 L654.3,831.8 L655.1,833.7 L655.8,835.5 L656.6,837.4 L657.3,839.3 L657.9,841.2 L658.6,843.0 L659.2,844.9 L659.8,846.8 L660.5,848.7 L661.1,850.6 L661.6,852.6 L662.2,854.5 L662.7,856.4 L663.3,858.3 L663.8,860.3 L664.3,862.2 L664.8,864.1 L665.3,866.1 L665.8,868.0 L666.2,870.0 L666.7,871.9 L667.1,873.9 L667.6,875.8 L668.0,877.8 L668.5,879.7 L668.9,881.7 L669.3,883.6 L669.8,885.6 L670.2,887.5 L670.6,889.5 L671.0,891.4 L671.5,893.4 L671.9,895.3 L672.3,897.3 L672.7,899.3 L673.1,901.2 L673.5,903.2 L674.0,905.1 L674.4,907.1 L674.8,909.0 L675.2,911.0 L675.6,913.0 L676.0,914.9 L676.5,916.9 L676.9,918.8 L677.4,920.7 L677.9,922.7 L678.4,924.6 L678.9,926.6 L679.4,928.5 L679.9,930.4 L680.5,932.3 L681.0,934.3 L681.6,936.2 L682.2,938.1 L683.0,939.9 L684.1,941.6 L685.4,943.1 L686.7,944.6 L687.9,946.2 L689.1,947.7 L690.4,949.3 L691.7,950.8 L693.2,952.1 L694.8,953.3 L696.5,954.3 L698.3,955.2 L700.1,956.1 L702.0,956.8 L703.8,957.5 L705.8,958.1 L707.7,958.6 L709.7,958.9 L711.6,959.3 L713.6,959.6 L715.6,959.8 L717.6,960.1 L719.6,960.3 L721.5,960.5 L723.5,960.6 L725.5,960.7 L727.5,960.8 L729.5,960.8 L731.5,960.8 L733.5,960.8 L735.5,960.8 L737.5,960.7 L739.5,960.6 L741.5,960.6 L743.5,960.5 L745.5,960.4 L747.5,960.2 L749.5,960.1 L751.5,960.0 L753.5,959.9 L755.5,959.8 L757.5,959.6 L759.5,959.5 L761.5,959.4 L763.5,959.2 L765.5,959.1 L767.5,958.9 L769.4,958.8 L771.4,958.6 L773.4,958.4 L775.4,958.3 L777.4,958.1 L779.4,958.0 L781.4,957.8 L783.4,957.6 L785.4,957.4 L787.4,957.3 L789.4,957.1 L791.4,956.9 L793.4,956.7 L795.3,956.5 L797.3,956.2 L799.3,956.0 L801.3,955.7 L803.3,955.5 L805.3,955.2 L807.2,954.9 L809.2,954.6 L811.2,954.2 L813.1,953.9 L815.1,953.5 L817.1,953.1 L819.0,952.6 L820.9,952.2 L822.9,951.7 L824.8,951.2 L826.7,950.6 L828.6,950.0 L830.6,949.5 L832.5,948.9 L834.4,948.3 L836.3,947.7 L838.2,947.1 L840.1,946.6 L842.0,946.0 L844.0,945.5 L845.9,945.1 L847.9,944.6 L849.8,944.2 L851.8,943.8 L853.7,943.5 L855.7,943.2 L857.7,942.9 L859.7,942.6 L861.7,942.3 L863.6,942.0 L865.6,941.8 L867.6,941.6 L869.6,941.4 L871.6,941.2 L873.6,941.0 L875.6,940.8 L877.6,940.6 L879.6,940.4 L881.5,940.3 L883.5,940.1 L885.5,940.0 L887.5,939.8 L889.5,939.7 L891.5,939.5 L893.5,939.4 L895.5,939.3 L897.5,939.2 L899.5,939.1 L901.5,939.0 L903.5,938.9 L905.5,938.8 L907.5,938.7 L909.5,938.6 L911.5,938.5 L913.5,938.4 L915.5,938.3 L917.5,938.2 L919.5,938.0 L921.5,937.9 L923.5,937.7 L925.4,937.6 L927.4,937.3 L929.4,937.1 L931.4,936.8 L933.4,936.5 L935.3,936.2 L937.3,935.8 L939.3,935.4 L941.2,935.0 L943.2,934.6 L945.1,934.1 L947.1,933.7 L949.0,933.2 L950.9,932.7 L952.9,932.3 L954.8,931.8 L956.8,931.4 L958.7,930.9 L960.7,930.5 L962.6,930.1 L964.6,929.7 L966.6,929.3 L968.5,928.9 L970.5,928.5 L972.4,928.1 L974.4,927.7 L976.4,927.4 L978.3,927.0 L980.3,926.6 L982.3,926.3 L984.2,925.9 L986.2,925.6 L988.2,925.2 L990.2,924.9 L992.1,924.6 L994.1,924.2 L996.1,923.9 L998.1,923.6 L1000.0,923.3 L1002.0,923.0 L1004.0,922.7 L1006.0,922.4 L1007.9,922.1 L1009.9,921.7 L1011.9,921.4 L1013.8,921.0 L1015.8,920.6 L1017.7,920.2 L1019.7,919.7 L1021.6,919.3 L1023.6,918.8 L1025.5,918.2 L1027.4,917.6 L1029.3,917.1 L1031.2,916.4 L1033.1,915.8 L1035.0,915.2 L1036.9,914.5 L1038.8,913.8 L1040.7,913.2 L1042.5,912.5 L1044.4,911.8 L1046.3,911.2 L1048.2,910.5 L1050.1,909.8 L1052.0,909.2 L1053.9,908.5 L1055.7,907.9 L1057.6,907.2 L1059.5,906.5 L1061.4,905.9 L1063.3,905.2 L1065.2,904.5 L1067.1,903.9 L1068.9,903.2 L1070.8,902.5 L1072.7,901.9 L1074.6,901.2 L1076.5,900.5 L1078.4,899.8 L1080.2,899.1 L1082.1,898.4 L1084.0,897.7 L1085.9,897.0 L1087.7,896.3 L1089.6,895.6 L1091.5,895.0 L1093.4,894.3 L1095.3,893.6 L1097.1,893.0 L1099.0,892.4 L1101.0,891.8 L1102.9,891.2 L1104.8,890.6 L1106.7,890.1 L1108.6,889.6 L1110.6,889.1 L1112.5,888.6 L1114.4,888.0 L1116.3,887.4 L1118.1,886.8 L1119.9,886.1 L1121.7,885.3 L1123.4,884.4 L1125.1,883.4 L1126.8,882.4 L1128.5,881.4 L1130.1,880.5 L1131.9,879.5 L1133.6,878.7 L1135.4,877.9 L1137.2,877.1 L1139.1,876.5 L1141.0,875.8 L1142.9,875.2 L1144.8,874.6 L1146.7,874.0 L1148.6,873.3 L1150.4,872.7 L1152.3,872.0 L1154.2,871.2 L1156.0,870.5 L1157.8,869.6 L1159.6,868.8 L1161.4,867.9 L1163.2,867.0 L1164.9,866.0 L1166.7,865.1 L1168.4,864.1 L1170.1,863.0 L1171.8,862.0 L1173.5,860.9 L1175.2,859.9 L1176.9,858.8 L1178.5,857.6 L1180.2,856.5 L1181.8,855.3 L1183.4,854.2 L1185.0,852.9 L1186.6,851.7 L1188.1,850.4 L1189.6,849.2 L1191.1,847.8 L1192.6,846.5 L1194.1,845.2 L1195.6,843.8 L1197.1,842.5 L1198.5,841.1 L1200.0,839.7 L1201.4,838.3 L1202.9,837.0 L1204.3,835.6 L1205.7,834.2 L1207.2,832.8 L1208.6,831.4 L1210.1,830.0 L1211.5,828.7 L1213.0,827.3 L1214.4,825.9 L1215.8,824.5 L1217.2,823.1 L1218.6,821.6 L1220.0,820.2 L1221.4,818.8 L1222.8,817.3 L1224.2,815.9 L1225.5,814.4 L1226.9,812.9 L1228.2,811.4 L1229.6,809.9 L1230.9,808.4 L1232.2,806.9 L1233.4,805.4 L1234.7,803.8 L1236.0,802.3 L1237.2,800.7 L1238.5,799.2 L1239.7,797.6 L1240.9,796.0 L1242.1,794.4 L1243.4,792.8 L1244.6,791.2 L1245.8,789.6 L1247.0,788.0 L1248.1,786.4 L1249.3,784.8 L1250.5,783.2 L1251.7,781.6 L1252.8,780.0 L1254.0,778.3 L1255.1,776.7 L1256.3,775.0 L1257.4,773.4 L1258.5,771.7 L1259.6,770.0 L1260.7,768.3 L1261.7,766.6 L1262.7,764.9 L1263.8,763.2 L1264.8,761.5 L1265.8,759.8 L1266.8,758.0 L1267.7,756.3 L1268.7,754.5 L1269.6,752.7 L1270.6,751.0 L1271.5,749.2 L1272.4,747.4 L1273.4,745.7 L1274.3,743.9 L1275.2,742.1 L1276.1,740.4 L1277.1,738.6 L1278.0,736.8 L1278.9,735.0 L1279.8,733.2 L1280.7,731.5 L1281.6,729.7 L1282.5,727.9 L1283.4,726.1 L1284.3,724.3 L1285.2,722.5 L1286.0,720.7 L1286.9,718.9 L1287.7,717.1 L1288.5,715.3 L1289.4,713.4 L1290.2,711.6 L1291.0,709.8 L1291.8,707.9 L1292.6,706.1 L1293.3,704.3 L1294.1,702.4 L1294.9,700.6 L1295.6,698.7 L1296.4,696.9 L1297.1,695.0 L1297.9,693.2 L1298.7,691.3 L1299.4,689.5 L1300.2,687.6 L1300.9,685.8 L1301.7,683.9 L1302.5,682.1 L1303.2,680.2 L1304.0,678.4 L1304.8,676.5 L1305.5,674.7 L1306.3,672.8 L1307.1,671.0 L1307.8,669.1 L1308.6,667.3 L1309.4,665.5 L1310.2,663.6 L1311.0,661.8 L1311.8,660.0 L1312.6,658.1 L1313.5,656.3 L1314.3,654.5 L1315.1,652.7 L1316.0,650.9 L1316.9,649.1 L1317.7,647.3 L1318.6,645.5 L1319.4,643.7 L1320.3,641.8 L1321.1,640.0 L1321.9,638.2 L1322.8,636.4 L1323.6,634.6 L1324.4,632.7 L1325.1,630.9 L1325.9,629.0 L1326.7,627.2 L1327.4,625.3 L1328.1,623.5 L1328.8,621.6 L1329.5,619.7 L1330.3,617.9 L1331.0,616.0 L1331.6,614.1 L1332.3,612.2 L1333.0,610.4 L1333.7,608.5 L1334.4,606.6 L1335.1,604.7 L1335.9,602.9 L1336.6,601.0 L1337.3,599.1 L1338.0,597.3 L1338.8,595.4 L1339.5,593.6 L1340.2,591.7 L1341.0,589.8 L1341.7,588.0 L1342.5,586.1 L1343.2,584.3 L1343.9,582.4 L1344.7,580.5 L1345.4,578.7 L1346.1,576.8 L1346.9,575.0 L1347.6,573.1 L1348.3,571.2 L1349.0,569.4 L1349.7,567.5 L1350.5,565.6 L1351.2,563.8 L1351.9,561.9 L1352.6,560.0 L1353.3,558.2 L1354.1,556.3 L1354.8,554.4 L1355.5,552.6 L1356.2,550.7 L1357.0,548.8 L1357.7,547.0 L1358.4,545.1 L1359.2,543.3 L1359.9,541.4 L1360.7,539.6 L1361.4,537.7 L1362.2,535.8 L1362.9,534.0 L1363.7,532.2 L1364.5,530.3 L1365.3,528.5 L1366.1,526.6 L1366.9,524.8 L1367.7,523.0 L1368.5,521.2 L1369.4,519.4 L1370.2,517.5 L1371.0,515.7 L1371.9,513.9 L1372.7,512.1 L1373.6,510.3 L1374.4,508.5 L1375.3,506.7 L1376.1,504.8 L1376.9,503.0 L1377.8,501.2 L1378.6,499.4 L1379.5,497.6 L1380.3,495.8 L1381.2,494.0 L1382.0,492.2 L1382.9,490.4 L1383.8,488.6 L1384.8,486.8 L1385.7,485.1 L1386.7,483.3 L1387.6,481.6 L1388.6,479.8 L1389.6,478.1 L1390.6,476.4 L1391.7,474.7 L1392.7,472.9 L1393.8,471.2 L1394.8,469.5 L1395.9,467.9 L1397.0,466.2 L1398.0,464.5 L1399.1,462.8 L1400.2,461.2 L1401.4,459.5 L1402.5,457.9 L1403.7,456.2 L1404.9,454.6 L1406.1,453.0 L1407.3,451.5 L1408.5,449.9 L1409.8,448.4 L1411.1,446.8 L1412.4,445.3 L1413.8,443.9 L1415.1,442.4 L1416.5,441.0 L1418.0,439.6 L1419.4,438.2 L1420.9,436.9 L1422.4,435.5 L1423.9,434.3 L1425.5,433.0 L1427.1,431.8 L1428.7,430.6 L1430.3,429.5 L1432.0,428.4 L1433.8,427.4 L1435.6,426.5 L1437.4,425.6 L1439.2,424.8 L1441.0,424.0 L1442.9,423.3 L1444.8,422.7 L1446.7,422.2 L1448.7,421.7 L1450.6,421.3 L1452.6,421.0 L1454.6,420.7 L1456.6,420.6 L1458.6,420.6 L1460.6,420.6 L1462.5,420.7 L1464.5,420.9 L1466.5,421.1 L1468.5,421.4 L1470.4,421.8 L1472.3,422.3 L1474.2,423.1 L1476.0,423.9 L1477.7,424.9 L1479.4,425.9 L1481.0,427.0 L1482.6,428.2 L1484.1,429.4 L1485.6,430.8 L1487.0,432.1 L1488.4,433.6 L1489.7,435.0 L1491.0,436.6 L1492.2,438.1 L1493.5,439.7 L1494.6,441.3 L1495.8,443.0 L1496.9,444.6 L1497.9,446.3 L1498.9,448.0 L1499.9,449.7 L1500.9,451.5 L1501.8,453.3 L1502.7,455.0 L1503.6,456.8 L1504.5,458.6 L1505.3,460.5 L1506.1,462.3 L1506.9,464.1 L1507.6,466.0 L1508.4,467.8 L1509.1,469.7 L1509.8,471.6 L1510.5,473.4 L1511.2,475.3 L1511.8,477.2 L1512.5,479.1 L1513.1,481.0 L1513.7,482.9 L1514.3,484.8 L1514.9,486.7 L1515.5,488.6 L1516.1,490.5 L1516.7,492.5 L1517.2,494.4 L1517.7,496.3 L1518.3,498.2 L1518.8,500.2 L1519.3,502.1 L1519.8,504.0 L1520.3,506.0 L1520.7,507.9 L1521.2,509.9 L1521.7,511.8 L1522.1,513.8 L1522.6,515.7 L1523.1,517.7 L1523.5,519.6 L1523.9,521.6 L1524.4,523.5 L1524.8,525.5 L1525.3,527.4 L1525.7,529.4 L1526.1,531.3 L1526.5,533.3 L1527.0,535.2 L1527.4,537.2 L1527.8,539.1 L1528.2,541.1 L1528.6,543.1 L1529.0,545.0 L1529.5,547.0 L1529.9,548.9 L1530.3,550.9 L1530.7,552.8 L1531.1,554.8 L1531.6,556.7 L1532.0,558.7 L1532.4,560.7 L1532.8,562.6 L1533.3,564.6 L1533.7,566.5 L1534.1,568.5 L1534.5,570.4 L1535.0,572.4 L1535.4,574.3 L1535.8,576.3 L1536.2,578.3 L1536.6,580.2 L1537.0,582.2 L1537.4,584.1 L1537.8,586.1 L1538.1,588.1 L1538.5,590.0 L1538.9,592.0 L1539.3,594.0 L1539.6,595.9 L1540.0,597.9 L1540.3,599.9 L1540.7,601.8 L1541.1,603.8 L1541.4,605.8 L1541.7,607.7 L1542.1,609.7 L1542.4,611.7 L1542.7,613.6 L1543.1,615.6 L1543.4,617.6 L1543.7,619.6 L1544.0,621.5 L1544.3,623.5 L1544.6,625.5 L1544.9,627.5 L1545.2,629.5 L1545.5,631.4 L1545.8,633.4 L1546.0,635.4 L1546.3,637.4 L1546.6,639.4 L1546.9,641.3 L1547.2,643.3 L1547.5,645.3 L1547.7,647.3 L1548.0,649.3 L1548.3,651.2 L1548.6,653.2 L1548.9,655.2 L1549.2,657.2 L1549.5,659.2 L1549.7,661.1 L1550.0,663.1 L1550.3,665.1 L1550.6,667.1 L1550.9,669.1 L1551.2,671.0 L1551.4,673.0 L1551.7,675.0 L1552.0,677.0 L1552.3,678.9 L1552.6,680.9 L1552.9,682.9 L1553.2,684.9 L1553.5,686.8 L1553.9,688.8 L1554.2,690.8 L1554.6,692.8 L1554.9,694.7 L1555.3,696.7 L1555.7,698.7 L1556.0,700.6 L1556.4,702.6 L1556.8,704.5 L1557.2,706.5 L1557.6,708.5 L1558.0,710.4 L1558.4,712.4 L1558.7,714.4 L1559.1,716.3 L1559.5,718.3 L1559.9,720.3 L1560.2,722.2 L1560.6,724.2 L1560.9,726.2 L1561.3,728.1 L1561.7,730.1 L1562.0,732.1 L1562.4,734.0 L1562.7,736.0 L1563.1,738.0 L1563.4,739.9 L1563.8,741.9 L1564.1,743.9 L1564.5,745.8 L1564.8,747.8 L1565.1,749.8 L1565.5,751.8 L1565.8,753.7 L1566.2,755.7 L1566.5,757.7 L1566.9,759.6 L1567.2,761.6 L1567.6,763.6 L1567.9,765.5 L1568.3,767.5 L1568.6,769.5 L1569.0,771.4 L1569.3,773.4 L1569.7,775.4 L1570.1,777.4 L1570.4,779.3 L1570.8,781.3 L1571.2,783.2 L1571.5,785.2 L1571.9,787.2 L1572.3,789.1 L1572.7,791.1 L1573.1,793.1 L1573.5,795.0 L1573.9,797.0 L1574.3,798.9 L1574.7,800.9 L1575.1,802.9 L1575.5,804.8 L1575.9,806.8 L1576.3,808.7 L1576.7,810.7 L1577.2,812.6 L1577.6,814.6 L1578.0,816.5 L1578.4,818.5 L1578.9,820.5 L1579.3,822.4 L1579.8,824.4 L1580.2,826.3 L1580.7,828.2 L1581.1,830.2 L1581.6,832.1 L1582.1,834.1 L1582.5,836.0 L1583.0,838.0 L1583.5,839.9 L1583.9,841.9 L1584.4,843.8 L1584.9,845.7 L1585.4,847.7 L1585.9,849.6 L1586.4,851.6 L1586.9,853.5 L1587.4,855.4 L1587.9,857.4 L1588.5,859.3 L1589.0,861.2 L1589.5,863.1 L1590.0,865.1 L1590.6,867.0 L1591.1,868.9 L1591.6,870.9 L1592.2,872.8 L1592.7,874.7 L1593.2,876.6 L1593.8,878.6 L1594.3,880.5 L1594.9,882.4 L1595.4,884.3 L1596.0,886.3 L1596.5,888.2 L1597.1,890.1 L1597.6,892.0 L1598.2,893.9 L1598.8,895.8 L1599.4,897.8 L1600.0,899.7 L1600.6,901.6 L1601.2,903.5 L1601.8,905.4 L1602.5,907.3 L1603.1,909.2 L1603.8,911.0 L1604.5,912.9 L1605.2,914.8 L1605.8,916.7 L1606.5,918.6 L1607.3,920.4 L1608.0,922.3 L1608.7,924.2 L1609.4,926.0 L1610.2,927.9 L1610.9,929.7 L1611.7,931.6 L1612.5,933.4 L1613.3,935.2 L1614.1,937.1 L1614.9,938.9 L1615.8,940.7 L1616.7,942.5 L1617.6,944.2 L1618.5,946.0 L1619.5,947.7 L1620.6,949.4 L1621.6,951.1 L1622.7,952.8 L1623.8,954.4 L1625.0,956.1 L1626.2,957.6 L1627.4,959.2 L1628.7,960.8 L1630.0,962.3 L1631.3,963.8 L1632.6,965.3 L1634.0,966.7 L1635.4,968.2 L1636.8,969.5 L1638.3,970.8 L1639.8,972.1 L1641.4,973.2 L1643.1,974.4 L1644.8,975.4 L1646.5,976.4 L1648.2,977.3 L1650.0,978.1 L1651.9,978.8 L1653.7,979.5 L1655.6,980.2 L1657.5,980.7 L1659.4,981.2 L1661.4,981.7 L1663.3,982.1 L1665.3,982.5 L1667.3,982.8 L1669.2,983.1 L1671.2,983.4 L1673.2,983.7 L1675.2,983.9 L1677.2,984.2 L1679.1,984.4 L1681.1,984.6 L1683.1,984.8 L1685.1,985.0 L1687.1,985.2 L1689.1,985.4 L1691.1,985.6 L1693.1,985.8 L1695.1,986.0 L1697.1,986.2 L1699.0,986.4 L1701.0,986.6 L1703.0,986.8 L1705.0,987.0 L1707.0,987.2 L1709.0,987.4 L1711.0,987.5 L1713.0,987.6 L1714.9,987.6 L1716.9,987.7 L1718.8,987.7 L1720.7,987.7 L1722.4,987.6 L1724.1,987.6 L1725.6,987.6 L1726.9,987.5 L1727.7,987.5"/>
<path stroke="#006ee6" d="M104.4,813.0 L106.4,813.1 L108.4,813.2 L110.4,813.3 L112.4,813.4 L114.4,813.4 L116.4,813.5 L118.4,813.6 L120.4,813.7 L122.4,813.7 L124.4,813.8 L126.4,813.8 L128.4,813.9 L130.4,813.9 L132.4,813.9 L134.4,814.0 L136.4,814.0 L138.4,814.0 L140.4,814.0 L142.4,814.0 L144.4,813.9 L146.4,813.9 L148.4,813.9 L150.4,813.9 L152.4,813.9 L154.4,813.8 L156.4,813.8 L158.4,813.8 L160.4,813.7 L162.4,813.7 L164.4,813.7 L166.4,813.6 L168.4,813.6 L170.4,813.5 L172.4,813.5 L174.4,813.4 L176.4,813.3 L178.4,813.3 L180.4,813.2 L182.4,813.2 L184.4,813.1 L186.4,813.0 L188.4,812.9 L190.4,812.9 L192.4,812.8 L194.4,812.7 L196.4,812.6 L198.4,812.5 L200.4,812.4 L202.4,812.3 L204.3,812.2 L206.3,812.1 L208.3,812.0 L210.3,811.8 L212.3,811.7 L214.3,811.5 L216.3,811.3 L218.3,811.1 L220.3,810.8 L222.2,810.5 L224.2,810.2 L226.2,809.9 L228.2,809.6 L230.1,809.3 L232.1,808.9 L234.1,808.6 L236.1,808.3 L238.0,808.0 L240.0,807.7 L242.0,807.4 L244.0,807.1 L246.0,806.8 L247.9,806.5 L249.9,806.3 L251.9,806.0 L253.9,805.8 L255.9,805.5 L257.9,805.3 L259.8,805.0 L261.8,804.8 L263.8,804.5 L265.8,804.3 L267.8,804.1 L269.8,803.8 L271.8,803.6 L273.7,803.4 L275.7,803.2 L277.7,802.9 L279.7,802.7 L281.7,802.5 L283.7,802.2 L285.7,802.0 L287.7,801.8 L289.6,801.6 L291.6,801.4 L293.6,801.2 L295.6,801.0 L297.6,800.8 L299.6,800.6 L301.6,800.4 L303.6,800.2 L305.6,800.0 L307.6,799.8 L309.5,799.6 L311.5,799.5 L313.5,799.3 L315.5,799.2 L317.5,799.0 L319.5,798.9 L321.5,798.7 L323.5,798.6 L325.5,798.4 L327.5,798.3 L329.5,798.1 L331.5,798.0 L333.5,797.9 L335.5,797.7 L337.5,797.6 L339.5,797.4 L341.5,797.3 L343.4,797.1 L345.4,796.9 L347.4,796.8 L349.4,796.6 L351.4,796.4 L353.4,796.2 L355.4,796.0 L357.4,795.8 L359.4,795.6 L361.4,795.4 L363.3,795.1 L365.3,794.9 L367.3,794.7 L369.3,794.4 L371.3,794.1 L373.3,793.9 L375.2,793.6 L377.2,793.3 L379.2,793.0 L381.2,792.6 L383.1,792.3 L385.1,791.9 L387.1,791.5 L389.0,791.2 L391.0,790.7 L392.9,790.2 L394.8,789.7 L396.7,789.1 L398.6,788.4 L400.5,787.8 L402.5,787.2 L404.4,786.6 L406.3,786.0 L408.2,785.4 L410.1,784.8 L412.0,784.2 L413.9,783.5 L415.7,782.8 L417.6,782.1 L419.5,781.3 L421.3,780.6 L423.1,779.8 L425.0,779.0 L426.8,778.1 L428.6,777.3 L430.4,776.3 L432.1,775.4 L433.8,774.4 L435.5,773.3 L437.2,772.2 L438.8,771.0 L440.4,769.8 L441.9,768.5 L443.4,767.2 L444.9,765.8 L446.3,764.4 L447.6,762.9 L448.9,761.4 L450.2,759.8 L451.4,758.2 L452.5,756.6 L453.5,754.9 L454.5,753.1 L455.5,751.4 L456.4,749.6 L457.3,747.8 L458.2,746.0 L459.1,744.2 L459.9,742.4 L460.7,740.6 L461.4,738.7 L462.1,736.9 L462.8,735.0 L463.5,733.1 L464.1,731.2 L464.8,729.3 L465.4,727.4 L466.0,725.5 L466.6,723.6 L467.2,721.7 L467.8,719.8 L468.4,717.9 L469.0,715.9 L469.5,714.0 L470.1,712.1 L470.7,710.2 L471.2,708.3 L471.7,706.3 L472.2,704.4 L472.7,702.5 L473.2,700.5 L473.7,698.6 L474.2,696.6 L474.6,694.7 L475.1,692.7 L475.5,690.8 L475.9,688.8 L476.3,686.9 L476.7,684.9 L477.1,682.9 L477.5,681.0 L477.8,679.0 L478.2,677.0 L478.6,675.1 L478.9,673.1 L479.3,671.2 L479.7,669.2 L480.0,667.2 L480.4,665.3 L480.8,663.3 L481.1,661.3 L481.5,659.3 L481.8,657.4 L482.2,655.4 L482.5,653.4 L482.9,651.5 L483.2,649.5 L483.6,647.5 L483.9,645.6 L484.3,643.6 L484.6,641.6 L484.9,639.7 L485.3,637.7 L485.6,635.7 L485.9,633.7 L486.3,631.8 L486.6,629.8 L487.0,627.8 L487.4,625.9 L487.8,623.9 L488.3,622.0 L488.8,620.0 L489.3,618.1 L489.8,616.2 L490.4,614.3 L491.1,612.4 L491.9,610.6 L492.9,608.9 L494.4,607.6 L496.0,606.8 L497.7,607.1 L499.1,608.3 L500.3,609.9 L501.3,611.7 L502.1,613.5 L502.8,615.3 L503.4,617.2 L503.9,619.2 L504.4,621.1 L504.8,623.1 L505.3,625.0 L505.7,627.0 L506.1,628.9 L506.5,630.9 L506.9,632.8 L507.2,634.8 L507.6,636.8 L507.9,638.8 L508.3,640.7 L508.6,642.7 L508.9,644.7 L509.2,646.7 L509.5,648.6 L509.8,650.6 L510.1,652.6 L510.4,654.6 L510.7,656.5 L511.0,658.5 L511.3,660.5 L511.6,662.5 L511.9,664.5 L512.1,666.4 L512.4,668.4 L512.7,670.4 L512.9,672.4 L513.2,674.4 L513.5,676.3 L513.8,678.3 L514.0,680.3 L514.3,682.3 L514.7,684.3 L515.0,686.2 L515.3,688.2 L515.7,690.2 L516.1,692.1 L516.4,694.1 L516.8,696.1 L517.3,698.0 L517.7,700.0 L518.1,701.9 L518.6,703.9 L519.1,705.8 L519.6,707.7 L520.1,709.7 L520.7,711.6 L521.3,713.5 L521.9,715.4 L522.6,717.3 L523.3,719.2 L524.0,721.0 L524.8,722.9 L525.6,724.7 L526.5,726.5 L527.4,728.2 L528.4,730.0 L529.4,731.7 L530.5,733.4 L531.7,735.0 L533.0,736.5 L534.3,738.0 L535.7,739.5 L537.2,740.8 L538.8,741.8 L540.7,742.4 L542.7,742.7 L544.7,742.9 L546.7,743.1 L548.6,743.3 L550.6,743.4 L552.6,743.4 L554.6,743.5 L556.6,743.4 L558.6,743.0 L560.4,742.3 L562.2,741.4 L564.0,740.5 L565.8,739.6 L567.7,738.9 L569.6,738.2 L571.5,737.6 L573.4,737.1 L575.3,736.5 L577.2,735.9 L579.1,735.2 L580.9,734.4 L582.7,733.5 L584.3,732.3 L585.7,730.9 L587.0,729.4 L588.2,727.8 L589.3,726.1 L590.3,724.4 L591.3,722.7 L592.4,721.0 L593.4,719.2 L594.4,717.5 L595.4,715.8 L596.3,714.0 L597.2,712.2 L598.1,710.4 L599.0,708.6 L599.8,706.8 L600.7,705.0 L601.6,703.2 L602.4,701.4 L603.3,699.6 L604.2,697.8 L605.1,696.0 L606.0,694.3 L606.9,692.5 L607.8,690.7 L608.7,688.9 L609.5,687.1 L610.4,685.3 L611.3,683.5 L612.2,681.7 L613.1,679.9 L614.0,678.2 L614.9,676.4 L615.8,674.6 L616.7,672.8 L617.6,671.0 L618.5,669.2 L619.4,667.4 L620.3,665.6 L621.2,663.9 L622.1,662.1 L623.1,660.3 L624.0,658.6 L625.0,656.8 L625.9,655.0 L626.9,653.3 L627.9,651.6 L628.9,649.9 L630.0,648.2 L631.2,646.5 L632.3,644.9 L633.5,643.3 L634.7,641.7 L636.0,640.2 L637.4,638.8 L639.0,637.7 L640.9,636.9 L642.8,636.5 L644.5,636.8 L645.9,638.0 L647.0,639.7 L647.9,641.5 L648.8,643.2 L649.6,645.0 L650.4,646.9 L651.2,648.7 L651.9,650.6 L652.6,652.5 L653.2,654.4 L653.9,656.3 L654.5,658.2 L655.1,660.1 L655.7,662.0 L656.3,663.9 L656.8,665.8 L657.4,667.7 L657.9,669.7 L658.4,671.6 L658.9,673.5 L659.4,675.5 L659.9,677.4 L660.4,679.3 L660.9,681.3 L661.4,683.2 L661.9,685.2 L662.4,687.1 L662.9,689.0 L663.4,691.0 L663.8,692.9 L664.3,694.9 L664.8,696.8 L665.2,698.8 L665.7,700.7 L666.2,702.6 L666.7,704.6 L667.2,706.5 L667.7,708.5 L668.2,710.4 L668.7,712.3 L669.3,714.2 L669.8,716.2 L670.4,718.1 L671.0,720.0 L671.7,721.9 L672.3,723.8 L672.9,725.7 L673.6,727.6 L674.3,729.4 L675.0,731.3 L675.7,733.2 L676.4,735.1 L677.1,736.9 L677.8,738.8 L678.6,740.6 L679.3,742.5 L680.1,744.3 L680.9,746.2 L681.7,748.0 L682.6,749.8 L683.5,751.6 L684.5,753.3 L685.5,755.0 L686.6,756.7 L687.7,758.4 L688.9,760.0 L690.1,761.6 L691.3,763.1 L692.7,764.6 L694.2,765.9 L695.8,767.0 L697.6,767.9 L699.4,768.7 L701.3,769.5 L703.2,770.2 L705.1,770.8 L707.0,771.3 L708.9,771.8 L710.9,772.2 L712.9,772.5 L714.9,772.7 L716.8,772.8 L718.8,772.9 L720.8,773.0 L722.8,773.1 L724.8,773.2 L726.8,773.2 L728.8,773.3 L730.8,773.3 L732.8,773.4 L734.8,773.4 L736.8,773.4 L738.8,773.5 L740.8,773.5 L742.8,773.5 L744.8,773.5 L746.8,773.5 L748.8,773.5 L750.8,773.5 L752.8,773.4 L754.8,773.3 L756.8,773.2 L758.8,773.1 L760.8,772.9 L762.8,772.7 L764.8,772.5 L766.7,772.2 L768.7,772.0 L770.7,771.7 L772.7,771.4 L774.7,771.2 L776.7,770.9 L778.6,770.6 L780.6,770.3 L782.6,770.0 L784.6,769.7 L786.5,769.4 L788.5,769.1 L790.5,768.8 L792.5,768.5 L794.4,768.1 L796.4,767.8 L798.4,767.4 L800.3,767.0 L802.3,766.6 L804.3,766.2 L806.2,765.8 L808.2,765.4 L810.1,764.9 L812.1,764.5 L814.0,764.0 L815.9,763.5 L817.9,763.0 L819.8,762.5 L821.7,762.0 L823.7,761.5 L825.6,761.0 L827.5,760.4 L829.5,759.9 L831.4,759.4 L833.3,758.8 L835.2,758.3 L837.2,757.8 L839.1,757.3 L841.0,756.7 L843.0,756.2 L844.9,755.8 L846.9,755.3 L848.8,754.8 L850.7,754.3 L852.7,753.9 L854.6,753.5 L856.6,753.0 L858.5,752.6 L860.5,752.2 L862.5,751.8 L864.4,751.4 L866.4,751.0 L868.4,750.7 L870.3,750.4 L872.3,750.1 L874.3,749.8 L876.3,749.6 L878.3,749.4 L880.3,749.2 L882.2,749.0 L884.2,748.9 L886.2,748.7 L888.2,748.6 L890.2,748.4 L892.2,748.3 L894.2,748.2 L896.2,748.1 L898.2,747.9 L900.2,747.8 L902.2,747.7 L904.2,747.6 L906.2,747.4 L908.2,747.3 L910.2,747.1 L912.2,746.9 L914.2,746.7 L916.1,746.5 L918.1,746.3 L920.1,746.0 L922.1,745.7 L924.1,745.4 L926.0,745.1 L928.0,744.8 L930.0,744.4 L931.9,744.1 L933.9,743.7 L935.9,743.4 L937.8,743.0 L939.8,742.7 L941.8,742.3 L943.7,741.9 L945.7,741.6 L947.7,741.2 L949.7,740.9 L951.6,740.5 L953.6,740.2 L955.6,739.8 L957.5,739.5 L959.5,739.1 L961.5,738.8 L963.4,738.4 L965.4,738.1 L967.4,737.7 L969.3,737.3 L971.3,737.0 L973.3,736.6 L975.2,736.2 L977.2,735.9 L979.2,735.5 L981.1,735.1 L983.1,734.7 L985.1,734.3 L987.0,733.9 L989.0,733.5 L990.9,733.1 L992.9,732.7 L994.8,732.3 L996.8,731.9 L998.8,731.5 L1000.7,731.0 L1002.7,730.6 L1004.6,730.2 L1006.6,729.8 L1008.5,729.4 L1010.5,728.9 L1012.4,728.5 L1014.4,728.1 L1016.4,727.7 L1018.3,727.4 L1020.3,727.0 L1022.3,726.6 L1024.2,726.2 L1026.2,725.9 L1028.2,725.5 L1030.1,725.1 L1032.1,724.8 L1034.1,724.4 L1036.0,724.1 L1038.0,723.7 L1040.0,723.3 L1041.9,723.0 L1043.9,722.6 L1045.8,722.2 L1047.8,721.8 L1049.7,721.3 L1051.7,720.9 L1053.6,720.4 L1055.6,720.0 L1057.5,719.5 L1059.5,719.0 L1061.4,718.5 L1063.3,718.0 L1065.3,717.4 L1067.2,716.9 L1069.1,716.3 L1071.0,715.7 L1072.9,715.2 L1074.8,714.6 L1076.7,714.0 L1078.6,713.3 L1080.5,712.7 L1082.4,712.1 L1084.3,711.4 L1086.2,710.7 L1088.1,710.1 L1090.0,709.4 L1091.8,708.6 L1093.7,707.9 L1095.6,707.2 L1097.4,706.5 L1099.3,705.7 L1101.1,705.0 L1103.0,704.3 L1104.9,703.5 L1106.7,702.8 L1108.6,702.1 L1110.4,701.3 L1112.3,700.6 L1114.2,699.9 L1116.0,699.2 L1117.9,698.5 L1119.8,697.8 L1121.7,697.1 L1123.5,696.4 L1125.4,695.6 L1127.3,694.9 L1129.1,694.2 L1131.0,693.5 L1132.9,692.7 L1134.7,692.0 L1136.6,691.3 L1138.4,690.5 L1140.3,689.7 L1142.1,689.0 L1144.0,688.2 L1145.8,687.4 L1147.6,686.6 L1149.5,685.8 L1151.3,685.0 L1153.1,684.2 L1154.9,683.3 L1156.7,682.4 L1158.5,681.6 L1160.3,680.7 L1162.1,679.8 L1163.8,678.8 L1165.6,677.9 L1167.3,676.9 L1169.1,675.9 L1170.8,674.9 L1172.5,673.9 L1174.2,672.8 L1175.9,671.8 L1177.6,670.7 L1179.3,669.6 L1180.9,668.5 L1182.6,667.4 L1184.2,666.2 L1185.8,665.0 L1187.5,663.9 L1189.1,662.7 L1190.6,661.5 L1192.2,660.2 L1193.8,659.0 L1195.3,657.7 L1196.9,656.5 L1198.4,655.2 L1200.0,653.9 L1201.5,652.6 L1203.0,651.3 L1204.5,649.9 L1206.0,648.6 L1207.4,647.3 L1208.9,645.9 L1210.3,644.5 L1211.8,643.1 L1213.2,641.7 L1214.6,640.3 L1216.0,638.9 L1217.3,637.4 L1218.7,635.9 L1220.0,634.4 L1221.3,632.9 L1222.5,631.3 L1223.8,629.8 L1225.0,628.2 L1226.2,626.6 L1227.4,625.0 L1228.5,623.3 L1229.7,621.7 L1230.9,620.1 L1232.1,618.5 L1233.3,616.9 L1234.5,615.3 L1235.7,613.7 L1236.9,612.1 L1238.1,610.6 L1239.4,609.0 L1240.6,607.4 L1241.8,605.8 L1243.0,604.2 L1244.2,602.6 L1245.4,601.0 L1246.6,599.4 L1247.8,597.8 L1248.9,596.2 L1250.1,594.5 L1251.2,592.8 L1252.2,591.2 L1253.3,589.5 L1254.3,587.8 L1255.4,586.1 L1256.4,584.3 L1257.4,582.6 L1258.4,580.9 L1259.4,579.1 L1260.3,577.4 L1261.3,575.6 L1262.3,573.9 L1263.2,572.1 L1264.2,570.4 L1265.1,568.6 L1266.1,566.8 L1267.0,565.1 L1267.9,563.3 L1268.9,561.5 L1269.8,559.8 L1270.8,558.0 L1271.7,556.2 L1272.7,554.5 L1273.6,552.7 L1274.5,551.0 L1275.5,549.2 L1276.4,547.4 L1277.4,545.7 L1278.3,543.9 L1279.2,542.1 L1280.1,540.3 L1281.0,538.5 L1281.9,536.8 L1282.8,535.0 L1283.7,533.2 L1284.6,531.4 L1285.4,529.6 L1286.3,527.8 L1287.1,526.0 L1288.0,524.1 L1288.8,522.3 L1289.6,520.5 L1290.4,518.6 L1291.2,516.8 L1292.0,515.0 L1292.7,513.1 L1293.5,511.3 L1294.3,509.4 L1295.1,507.6 L1295.9,505.8 L1296.6,503.9 L1297.4,502.1 L1298.2,500.2 L1299.0,498.4 L1299.7,496.5 L1300.5,494.7 L1301.2,492.8 L1302.0,491.0 L1302.7,489.1 L1303.5,487.3 L1304.2,485.4 L1304.9,483.5 L1305.6,481.7 L1306.3,479.8 L1307.1,477.9 L1307.8,476.1 L1308.5,474.2 L1309.2,472.3 L1309.9,470.5 L1310.6,468.6 L1311.4,466.7 L1312.1,464.9 L1312.8,463.0 L1313.5,461.1 L1314.2,459.3 L1314.9,457.4 L1315.7,455.5 L1316.4,453.7 L1317.1,451.8 L1317.8,449.9 L1318.5,448.1 L1319.2,446.2 L1319.9,444.3 L1320.7,442.5 L1321.4,440.6 L1322.2,438.8 L1322.9,436.9 L1323.7,435.1 L1324.6,433.3 L1325.4,431.5 L1326.3,429.7 L1327.1,427.8 L1328.0,426.0 L1328.8,424.2 L1329.6,422.4 L1330.4,420.6 L1331.2,418.7 L1331.9,416.9 L1332.6,415.0 L1333.3,413.1 L1334.0,411.2 L1334.7,409.4 L1335.3,407.5 L1336.0,405.6 L1336.7,403.7 L1337.3,401.8 L1338.0,399.9 L1338.6,398.0 L1339.3,396.2 L1340.0,394.3 L1340.6,392.4 L1341.3,390.5 L1342.0,388.6 L1342.7,386.7 L1343.3,384.9 L1344.0,383.0 L1344.7,381.1 L1345.4,379.2 L1346.1,377.4 L1346.8,375.5 L1347.6,373.6 L1348.3,371.8 L1349.0,369.9 L1349.8,368.0 L1350.5,366.2 L1351.3,364.3 L1352.1,362.5 L1352.9,360.7 L1353.7,358.8 L1354.5,357.0 L1355.3,355.2 L1356.1,353.4 L1356.9,351.5 L1357.8,349.7 L1358.6,347.9 L1359.4,346.1 L1360.2,344.3 L1361.1,342.4 L1361.9,340.6 L1362.7,338.8 L1363.6,337.0 L1364.4,335.2 L1365.3,333.4 L1366.2,331.6 L1367.0,329.8 L1367.9,328.0 L1368.8,326.2 L1369.7,324.4 L1370.6,322.6 L1371.5,320.8 L1372.5,319.1 L1373.4,317.3 L1374.4,315.5 L1375.3,313.8 L1376.3,312.0 L1377.3,310.3 L1378.3,308.6 L1379.3,306.8 L1380.3,305.1 L1381.3,303.4 L1382.4,301.7 L1383.4,300.0 L1384.5,298.3 L1385.6,296.7 L1386.8,295.0 L1387.9,293.4 L1389.1,291.8 L1390.3,290.2 L1391.5,288.6 L1392.8,287.0 L1394.0,285.5 L1395.3,283.9 L1396.5,282.4 L1397.8,280.8 L1399.1,279.3 L1400.4,277.8 L1401.7,276.3 L1403.0,274.8 L1404.4,273.3 L1405.8,271.9 L1407.1,270.4 L1408.6,269.0 L1410.0,267.6 L1411.4,266.3 L1412.9,264.9 L1414.4,263.6 L1416.0,262.4 L1417.6,261.2 L1419.3,260.1 L1421.0,259.1 L1422.7,258.1 L1424.5,257.2 L1426.3,256.3 L1428.2,255.5 L1430.0,254.8 L1431.9,254.2 L1433.9,253.8 L1435.9,253.6 L1437.8,253.5 L1439.4,253.2 L1440.4,252.0 L1441.3,250.5 L1442.8,249.8 L1444.7,249.7 L1446.7,249.7 L1448.7,249.8 L1450.7,250.0 L1452.6,250.5 L1454.5,251.2 L1456.4,251.9 L1458.2,252.7 L1460.0,253.5 L1461.8,254.4 L1463.6,255.4 L1465.3,256.4 L1467.0,257.4 L1468.7,258.5 L1470.3,259.6 L1471.8,260.9 L1473.2,262.3 L1474.6,263.8 L1475.8,265.3 L1477.1,266.9 L1478.3,268.5 L1479.4,270.1 L1480.6,271.7 L1481.7,273.4 L1482.7,275.1 L1483.7,276.8 L1484.7,278.5 L1485.7,280.3 L1486.7,282.0 L1487.6,283.8 L1488.5,285.6 L1489.4,287.4 L1490.2,289.2 L1491.0,291.0 L1491.8,292.9 L1492.6,294.7 L1493.4,296.5 L1494.1,298.4 L1494.9,300.2 L1495.6,302.1 L1496.3,304.0 L1497.0,305.9 L1497.6,307.7 L1498.3,309.6 L1498.9,311.5 L1499.6,313.4 L1500.2,315.3 L1500.8,317.2 L1501.4,319.1 L1502.0,321.0 L1502.6,322.9 L1503.2,324.9 L1503.8,326.8 L1504.4,328.7 L1505.0,330.6 L1505.6,332.5 L1506.2,334.4 L1506.7,336.3 L1507.3,338.3 L1507.9,340.2 L1508.4,342.1 L1509.0,344.0 L1509.5,345.9 L1510.1,347.9 L1510.6,349.8 L1511.2,351.7 L1511.7,353.6 L1512.2,355.6 L1512.8,357.5 L1513.3,359.4 L1513.8,361.4 L1514.3,363.3 L1514.8,365.2 L1515.3,367.2 L1515.8,369.1 L1516.3,371.0 L1516.8,373.0 L1517.2,374.9 L1517.7,376.9 L1518.2,378.8 L1518.6,380.8 L1519.1,382.7 L1519.5,384.7 L1519.9,386.6 L1520.4,388.6 L1520.8,390.5 L1521.2,392.5 L1521.6,394.4 L1522.0,396.4 L1522.3,398.4 L1522.7,400.3 L1523.0,402.3 L1523.4,404.3 L1523.7,406.2 L1524.0,408.2 L1524.4,410.2 L1524.7,412.2 L1525.0,414.1 L1525.3,416.1 L1525.6,418.1 L1526.0,420.1 L1526.3,422.0 L1526.6,424.0 L1526.9,426.0 L1527.2,428.0 L1527.6,429.9 L1527.9,431.9 L1528.2,433.9 L1528.6,435.9 L1528.9,437.8 L1529.2,439.8 L1529.6,441.8 L1529.9,443.7 L1530.3,445.7 L1530.6,447.7 L1531.0,449.6 L1531.3,451.6 L1531.7,453.6 L1532.0,455.6 L1532.4,457.5 L1532.7,459.5 L1533.1,461.5 L1533.4,463.4 L1533.8,465.4 L1534.1,467.4 L1534.5,469.3 L1534.8,471.3 L1535.2,473.3 L1535.5,475.2 L1535.9,477.2 L1536.2,479.2 L1536.5,481.2 L1536.9,483.1 L1537.2,485.1 L1537.6,487.1 L1537.9,489.0 L1538.3,491.0 L1538.6,493.0 L1539.0,494.9 L1539.3,496.9 L1539.7,498.9 L1540.0,500.9 L1540.4,502.8 L1540.7,504.8 L1541.1,506.8 L1541.5,508.7 L1541.8,510.7 L1542.2,512.7 L1542.6,514.6 L1542.9,516.6 L1543.3,518.5 L1543.7,520.5 L1544.1,522.5 L1544.5,524.4 L1544.9,526.4 L1545.2,528.4 L1545.6,530.3 L1546.0,532.3 L1546.4,534.2 L1546.8,536.2 L1547.2,538.2 L1547.6,540.1 L1548.0,542.1 L1548.4,544.0 L1548.8,546.0 L1549.2,548.0 L1549.6,549.9 L1549.9,551.9 L1550.3,553.9 L1550.7,555.8 L1551.1,557.8 L1551.5,559.7 L1551.9,561.7 L1552.3,563.7 L1552.7,565.6 L1553.1,567.6 L1553.5,569.5 L1553.9,571.5 L1554.3,573.5 L1554.7,575.4 L1555.1,577.4 L1555.5,579.3 L1555.9,581.3 L1556.3,583.3 L1556.7,585.2 L1557.2,587.2 L1557.6,589.1 L1558.0,591.1 L1558.4,593.0 L1558.8,595.0 L1559.3,596.9 L1559.7,598.9 L1560.1,600.9 L1560.5,602.8 L1560.9,604.8 L1561.3,606.7 L1561.8,608.7 L1562.2,610.6 L1562.6,612.6 L1563.0,614.6 L1563.4,616.5 L1563.7,618.5 L1564.1,620.4 L1564.5,622.4 L1564.9,624.4 L1565.3,626.3 L1565.7,628.3 L1566.1,630.3 L1566.5,632.2 L1566.9,634.2 L1567.3,636.1 L1567.7,638.1 L1568.1,640.0 L1568.5,642.0 L1568.9,644.0 L1569.4,645.9 L1569.8,647.9 L1570.2,649.8 L1570.7,651.8 L1571.2,653.7 L1571.6,655.6 L1572.1,657.6 L1572.6,659.5 L1573.1,661.5 L1573.6,663.4 L1574.1,665.3 L1574.6,667.3 L1575.1,669.2 L1575.6,671.1 L1576.2,673.1 L1576.7,675.0 L1577.3,676.9 L1577.8,678.8 L1578.4,680.7 L1578.9,682.7 L1579.5,684.6 L1580.1,686.5 L1580.7,688.4 L1581.3,690.3 L1582.0,692.2 L1582.6,694.1 L1583.2,696.0 L1583.9,697.9 L1584.5,699.8 L1585.2,701.7 L1585.8,703.6 L1586.5,705.4 L1587.1,707.3 L1587.8,709.2 L1588.4,711.1 L1589.1,713.0 L1589.8,714.9 L1590.4,716.8 L1591.1,718.7 L1591.8,720.5 L1592.5,722.4 L1593.2,724.3 L1593.9,726.2 L1594.6,728.0 L1595.3,729.9 L1596.0,731.8 L1596.7,733.6 L1597.5,735.5 L1598.2,737.3 L1599.0,739.2 L1599.8,741.0 L1600.5,742.9 L1601.3,744.7 L1602.1,746.5 L1603.0,748.4 L1603.8,750.2 L1604.6,752.0 L1605.5,753.8 L1606.4,755.6 L1607.3,757.4 L1608.2,759.1 L1609.2,760.9 L1610.2,762.6 L1611.2,764.4 L1612.2,766.1 L1613.3,767.7 L1614.4,769.4 L1615.6,771.0 L1616.7,772.6 L1617.9,774.2 L1619.2,775.8 L1620.5,777.3 L1621.8,778.8 L1623.1,780.3 L1624.4,781.8 L1625.8,783.2 L1627.2,784.6 L1628.7,786.0 L1630.1,787.4 L1631.6,788.6 L1633.2,789.9 L1634.8,791.1 L1636.4,792.2 L1638.1,793.2 L1639.8,794.2 L1641.6,795.2 L1643.3,796.0 L1645.2,796.9 L1647.0,797.6 L1648.9,798.3 L1650.7,798.9 L1652.6,799.5 L1654.6,800.0 L1656.5,800.5 L1658.4,801.0 L1660.4,801.4 L1662.4,801.8 L1664.3,802.1 L1666.3,802.5 L1668.3,802.8 L1670.2,803.0 L1672.2,803.3 L1674.2,803.5 L1676.2,803.7 L1678.2,803.9 L1680.2,804.1 L1682.2,804.3 L1684.2,804.5 L1686.2,804.6 L1688.2,804.8 L1690.2,804.9 L1692.1,805.0 L1694.1,805.2 L1696.1,805.3 L1698.1,805.4 L1700.1,805.5 L1702.1,805.6 L1704.1,805.7 L1706.1,805.8 L1708.1,805.9 L1710.1,806.0 L1712.1,806.1 L1714.1,806.2 L1716.1,806.3 L1718.1,806.3 L1720.1,806.4 L1722.0,806.5 L1723.9,806.5 L1725.8,806.6 L1727.7,806.6 L1729.5,806.7"/>
<path stroke="#00ab65" d="M119.3,644.7 L121.3,644.7 L123.3,644.6 L125.3,644.6 L127.3,644.6 L129.3,644.5 L131.3,644.5 L133.3,644.4 L135.3,644.3 L137.3,644.2 L139.3,644.1 L141.3,644.0 L143.3,643.8 L145.3,643.7 L147.2,643.7 L149.2,643.6 L151.2,643.6 L153.2,643.6 L155.2,643.7 L157.2,643.7 L159.2,643.8 L161.2,643.8 L163.2,643.8 L165.2,643.9 L167.2,643.9 L169.2,643.8 L171.2,643.8 L173.2,643.8 L175.2,643.7 L177.2,643.7 L179.2,643.6 L181.2,643.5 L183.2,643.5 L185.2,643.4 L187.2,643.3 L189.2,643.2 L191.2,643.2 L193.2,643.1 L195.2,643.0 L197.2,642.9 L199.2,642.8 L201.2,642.8 L203.2,642.7 L205.2,642.6 L207.2,642.6 L209.2,642.5 L211.2,642.4 L213.2,642.3 L215.2,642.3 L217.2,642.2 L219.2,642.1 L221.2,642.1 L223.2,642.0 L225.2,641.9 L227.2,641.8 L229.2,641.8 L231.2,641.7 L233.2,641.6 L235.2,641.5 L237.2,641.5 L239.1,641.4 L241.1,641.3 L243.1,641.2 L245.1,641.1 L247.1,641.1 L249.1,641.0 L251.1,640.9 L253.1,640.8 L255.1,640.7 L257.1,640.6 L259.1,640.5 L261.1,640.5 L263.1,640.4 L265.1,640.3 L267.1,640.2 L269.1,640.1 L271.1,640.0 L273.1,639.9 L275.1,639.8 L277.1,639.7 L279.1,639.6 L281.1,639.5 L283.1,639.4 L285.1,639.3 L287.1,639.2 L289.1,639.1 L291.1,639.0 L293.1,638.9 L295.1,638.8 L297.1,638.7 L299.1,638.6 L301.1,638.5 L303.1,638.4 L305.1,638.2 L307.1,638.1 L309.1,638.0 L311.1,637.8 L313.1,637.7 L315.0,637.5 L317.0,637.4 L319.0,637.2 L321.0,637.0 L323.0,636.8 L325.0,636.6 L327.0,636.4 L329.0,636.1 L331.0,635.9 L332.9,635.6 L334.9,635.3 L336.9,635.0 L338.9,634.7 L340.8,634.4 L342.8,634.1 L344.8,633.7 L346.7,633.3 L348.7,632.9 L350.7,632.5 L352.6,632.1 L354.6,631.7 L356.5,631.3 L358.5,630.8 L360.4,630.4 L362.4,629.9 L364.3,629.3 L366.2,628.8 L368.1,628.2 L370.0,627.7 L371.9,627.1 L373.8,626.4 L375.7,625.7 L377.6,625.1 L379.4,624.3 L381.3,623.6 L383.1,622.8 L384.9,621.9 L386.7,621.0 L388.5,620.0 L390.2,619.0 L391.8,617.9 L393.5,616.8 L395.1,615.6 L396.7,614.5 L398.3,613.3 L399.9,612.0 L401.5,610.8 L403.1,609.6 L404.6,608.3 L406.1,607.0 L407.6,605.6 L409.0,604.2 L410.4,602.8 L411.7,601.3 L413.0,599.8 L414.3,598.2 L415.5,596.6 L416.7,595.0 L417.8,593.4 L419.0,591.7 L420.1,590.1 L421.1,588.4 L422.2,586.7 L423.2,585.0 L424.2,583.2 L425.2,581.5 L426.1,579.7 L427.0,577.9 L427.9,576.1 L428.8,574.3 L429.7,572.5 L430.5,570.7 L431.4,568.9 L432.2,567.1 L433.0,565.3 L433.9,563.5 L434.7,561.6 L435.5,559.8 L436.3,558.0 L437.1,556.1 L437.8,554.3 L438.6,552.4 L439.3,550.6 L440.1,548.7 L440.8,546.9 L441.6,545.0 L442.3,543.2 L443.1,541.3 L443.9,539.5 L444.6,537.6 L445.4,535.8 L446.2,533.9 L447.0,532.1 L447.8,530.3 L448.6,528.4 L449.4,526.6 L450.1,524.7 L451.0,522.9 L451.8,521.1 L452.6,519.3 L453.5,517.5 L454.4,515.7 L455.2,513.9 L456.1,512.1 L457.0,510.3 L457.9,508.5 L459.1,506.9 L460.4,505.5 L462.0,504.3 L463.8,503.4 L465.6,503.0 L467.6,503.3 L469.4,504.0 L471.1,505.0 L472.7,506.3 L474.0,507.8 L475.0,509.5 L475.9,511.2 L476.8,513.0 L477.6,514.9 L478.4,516.7 L479.2,518.5 L480.0,520.4 L480.7,522.3 L481.3,524.1 L482.0,526.0 L482.6,527.9 L483.2,529.9 L483.8,531.8 L484.4,533.7 L485.0,535.6 L485.6,537.5 L486.2,539.4 L486.8,541.3 L487.4,543.2 L488.0,545.1 L488.7,547.0 L489.3,548.9 L489.9,550.8 L490.5,552.7 L491.2,554.6 L491.8,556.5 L492.5,558.4 L493.2,560.2 L493.9,562.1 L494.6,564.0 L495.3,565.8 L496.1,567.7 L496.9,569.5 L497.7,571.4 L498.6,573.1 L499.5,574.9 L500.6,576.6 L501.7,578.3 L502.8,579.9 L504.0,581.5 L505.3,583.0 L506.7,584.4 L508.2,585.7 L509.9,586.9 L511.6,587.9 L513.3,588.9 L515.2,589.7 L517.1,590.3 L519.0,590.9 L520.9,591.3 L522.9,591.7 L524.9,592.0 L526.9,592.1 L528.9,592.0 L530.9,591.9 L532.8,591.6 L534.8,591.4 L536.8,591.1 L538.8,590.7 L540.7,590.4 L542.7,590.0 L544.6,589.5 L546.6,589.0 L548.5,588.4 L550.4,587.8 L552.3,587.2 L554.2,586.5 L556.0,585.8 L557.9,585.0 L559.7,584.2 L561.5,583.4 L563.3,582.4 L565.0,581.4 L566.7,580.4 L568.4,579.3 L570.1,578.2 L571.7,577.0 L573.3,575.9 L574.9,574.6 L576.4,573.3 L577.9,572.0 L579.4,570.6 L580.8,569.2 L582.2,567.8 L583.6,566.4 L584.9,564.9 L586.2,563.4 L587.5,561.8 L588.7,560.2 L589.9,558.6 L591.0,557.0 L592.1,555.3 L593.3,553.7 L594.4,552.0 L595.5,550.3 L596.6,548.7 L597.7,547.0 L598.8,545.4 L600.0,543.7 L601.1,542.0 L602.1,540.3 L603.2,538.7 L604.3,537.0 L605.4,535.3 L606.5,533.7 L607.6,532.0 L608.7,530.3 L609.8,528.6 L610.9,526.9 L612.0,525.3 L613.1,523.6 L614.4,522.1 L615.6,520.5 L616.9,519.0 L618.3,517.6 L619.8,516.3 L621.5,515.3 L623.4,514.5 L625.3,514.3 L627.2,514.6 L629.1,515.3 L630.9,516.2 L632.6,517.2 L634.1,518.5 L635.6,519.8 L637.0,521.3 L638.2,522.8 L639.4,524.4 L640.5,526.1 L641.5,527.8 L642.5,529.6 L643.4,531.4 L644.3,533.2 L645.1,535.0 L645.9,536.8 L646.7,538.6 L647.4,540.5 L648.1,542.4 L648.8,544.3 L649.5,546.2 L650.1,548.0 L650.8,549.9 L651.5,551.8 L652.2,553.7 L652.9,555.5 L653.6,557.4 L654.3,559.3 L655.0,561.2 L655.7,563.0 L656.4,564.9 L657.1,566.8 L657.9,568.6 L658.7,570.5 L659.5,572.3 L660.3,574.1 L661.1,576.0 L661.9,577.8 L662.8,579.6 L663.7,581.3 L664.7,583.1 L665.7,584.8 L666.7,586.5 L667.8,588.2 L668.9,589.9 L670.1,591.5 L671.4,593.0 L672.8,594.5 L674.2,595.9 L675.6,597.3 L677.2,598.6 L678.8,599.7 L680.5,600.8 L682.2,601.8 L684.0,602.7 L685.8,603.5 L687.7,604.2 L689.5,604.9 L691.4,605.6 L693.3,606.2 L695.3,606.7 L697.2,607.2 L699.2,607.6 L701.1,608.1 L703.1,608.5 L705.0,608.9 L707.0,609.2 L709.0,609.6 L710.9,609.9 L712.9,610.2 L714.9,610.6 L716.9,610.9 L718.8,611.2 L720.8,611.5 L722.8,611.8 L724.8,612.1 L726.7,612.4 L728.7,612.7 L730.7,612.9 L732.7,613.2 L734.7,613.4 L736.7,613.6 L738.7,613.7 L740.6,613.9 L742.6,614.0 L744.6,614.1 L746.6,614.2 L748.6,614.3 L750.6,614.4 L752.6,614.4 L754.6,614.5 L756.6,614.5 L758.6,614.5 L760.6,614.6 L762.6,614.6 L764.6,614.6 L766.6,614.6 L768.6,614.6 L770.6,614.6 L772.6,614.6 L774.6,614.6 L776.6,614.5 L778.6,614.5 L780.6,614.4 L782.6,614.3 L784.6,614.2 L786.6,614.1 L788.6,613.9 L790.6,613.8 L792.6,613.7 L794.6,613.5 L796.6,613.4 L798.6,613.2 L800.6,613.1 L802.6,612.9 L804.6,612.8 L806.6,612.6 L808.6,612.5 L810.5,612.3 L812.5,612.1 L814.5,612.0 L816.5,611.8 L818.5,611.6 L820.5,611.4 L822.5,611.2 L824.5,611.0 L826.5,610.8 L828.4,610.5 L830.4,610.2 L832.4,610.0 L834.4,609.7 L836.4,609.4 L838.3,609.0 L840.3,608.7 L842.3,608.3 L844.2,608.0 L846.2,607.6 L848.2,607.2 L850.1,606.8 L852.1,606.4 L854.1,606.0 L856.0,605.6 L858.0,605.2 L859.9,604.8 L861.9,604.4 L863.8,604.0 L865.8,603.6 L867.8,603.2 L869.7,602.8 L871.7,602.3 L873.6,601.9 L875.6,601.5 L877.5,601.1 L879.5,600.7 L881.4,600.2 L883.4,599.8 L885.4,599.4 L887.3,599.0 L889.3,598.5 L891.2,598.1 L893.2,597.6 L895.1,597.2 L897.0,596.7 L899.0,596.2 L900.9,595.7 L902.9,595.2 L904.8,594.7 L906.7,594.2 L908.7,593.7 L910.6,593.2 L912.5,592.6 L914.4,592.0 L916.3,591.4 L918.2,590.8 L920.1,590.2 L922.0,589.6 L923.9,588.9 L925.8,588.2 L927.7,587.5 L929.5,586.8 L931.4,586.1 L933.3,585.3 L935.1,584.6 L937.0,583.9 L938.8,583.1 L940.7,582.4 L942.5,581.6 L944.4,580.9 L946.2,580.1 L948.1,579.4 L949.9,578.6 L951.8,577.8 L953.6,577.1 L955.5,576.3 L957.3,575.5 L959.2,574.8 L961.0,574.0 L962.9,573.2 L964.7,572.5 L966.6,571.7 L968.4,571.0 L970.3,570.3 L972.2,569.6 L974.1,568.9 L975.9,568.2 L977.8,567.5 L979.7,566.9 L981.6,566.2 L983.5,565.6 L985.4,565.0 L987.3,564.5 L989.2,563.9 L991.2,563.4 L993.1,563.0 L995.1,562.6 L997.0,562.2 L999.0,561.8 L1001.0,561.5 L1002.9,561.2 L1004.9,560.9 L1006.9,560.6 L1008.9,560.4 L1010.9,560.2 L1012.9,560.0 L1014.8,559.8 L1016.8,559.7 L1018.8,559.6 L1020.8,559.5 L1022.8,559.4 L1024.8,559.3 L1026.8,559.3 L1028.8,559.2 L1030.8,559.2 L1032.8,559.2 L1034.8,559.1 L1036.8,559.1 L1038.8,559.0 L1040.8,558.9 L1042.8,558.8 L1044.8,558.6 L1046.8,558.5 L1048.8,558.3 L1050.8,558.1 L1052.7,557.8 L1054.7,557.5 L1056.7,557.3 L1058.7,556.9 L1060.6,556.6 L1062.6,556.3 L1064.6,555.9 L1066.6,555.6 L1068.5,555.2 L1070.5,554.9 L1072.5,554.5 L1074.4,554.1 L1076.4,553.7 L1078.3,553.3 L1080.3,552.9 L1082.3,552.5 L1084.2,552.1 L1086.2,551.7 L1088.1,551.2 L1090.1,550.8 L1092.0,550.3 L1094.0,549.8 L1095.9,549.4 L1097.8,548.8 L1099.8,548.3 L1101.7,547.8 L1103.6,547.2 L1105.5,546.6 L1107.4,545.9 L1109.2,545.2 L1111.1,544.5 L1112.9,543.7 L1114.7,542.9 L1116.5,542.0 L1118.3,541.1 L1120.1,540.2 L1121.9,539.3 L1123.6,538.4 L1125.4,537.5 L1127.2,536.6 L1129.0,535.8 L1130.8,534.9 L1132.7,534.1 L1134.5,533.3 L1136.3,532.5 L1138.2,531.7 L1140.0,530.9 L1141.8,530.1 L1143.7,529.3 L1145.5,528.5 L1147.3,527.6 L1149.1,526.7 L1150.9,525.8 L1152.6,524.9 L1154.4,524.0 L1156.1,523.0 L1157.9,522.0 L1159.6,521.0 L1161.3,520.0 L1163.0,519.0 L1164.7,517.9 L1166.4,516.9 L1168.1,515.8 L1169.8,514.7 L1171.5,513.6 L1173.2,512.5 L1174.8,511.4 L1176.5,510.3 L1178.1,509.2 L1179.8,508.0 L1181.4,506.8 L1183.0,505.7 L1184.6,504.5 L1186.2,503.2 L1187.7,502.0 L1189.3,500.8 L1190.9,499.5 L1192.4,498.2 L1193.9,497.0 L1195.5,495.7 L1197.0,494.3 L1198.5,493.0 L1199.9,491.7 L1201.4,490.3 L1202.9,489.0 L1204.3,487.6 L1205.8,486.2 L1207.2,484.8 L1208.6,483.4 L1210.0,482.0 L1211.4,480.5 L1212.8,479.1 L1214.2,477.6 L1215.5,476.2 L1216.9,474.7 L1218.2,473.2 L1219.5,471.7 L1220.8,470.2 L1222.1,468.7 L1223.4,467.1 L1224.7,465.6 L1226.0,464.1 L1227.3,462.5 L1228.5,461.0 L1229.8,459.4 L1231.0,457.8 L1232.2,456.3 L1233.5,454.7 L1234.7,453.1 L1235.9,451.5 L1237.0,449.9 L1238.2,448.3 L1239.4,446.6 L1240.5,445.0 L1241.7,443.3 L1242.8,441.7 L1243.9,440.0 L1245.0,438.4 L1246.1,436.7 L1247.1,435.0 L1248.2,433.3 L1249.2,431.6 L1250.2,429.9 L1251.2,428.1 L1252.2,426.4 L1253.2,424.7 L1254.2,422.9 L1255.2,421.2 L1256.2,419.4 L1257.2,417.7 L1258.2,416.0 L1259.3,414.3 L1260.3,412.6 L1261.4,410.9 L1262.5,409.2 L1263.6,407.6 L1264.7,405.9 L1265.8,404.3 L1266.9,402.6 L1268.0,400.9 L1269.0,399.2 L1270.0,397.5 L1271.0,395.7 L1271.9,394.0 L1272.8,392.2 L1273.7,390.4 L1274.6,388.6 L1275.4,386.8 L1276.3,385.0 L1277.2,383.2 L1278.0,381.4 L1278.9,379.6 L1279.8,377.8 L1280.6,376.0 L1281.5,374.2 L1282.4,372.4 L1283.3,370.6 L1284.2,368.8 L1285.1,367.0 L1286.0,365.2 L1286.9,363.5 L1287.8,361.7 L1288.7,359.9 L1289.5,358.1 L1290.4,356.3 L1291.3,354.5 L1292.1,352.7 L1293.0,350.9 L1293.8,349.0 L1294.7,347.2 L1295.5,345.4 L1296.3,343.6 L1297.0,341.7 L1297.8,339.9 L1298.6,338.0 L1299.3,336.2 L1300.0,334.3 L1300.7,332.4 L1301.4,330.6 L1302.1,328.7 L1302.8,326.8 L1303.5,324.9 L1304.3,323.1 L1305.0,321.2 L1305.7,319.3 L1306.4,317.5 L1307.1,315.6 L1307.9,313.7 L1308.6,311.9 L1309.3,310.0 L1310.1,308.2 L1310.8,306.3 L1311.5,304.4 L1312.3,302.6 L1313.0,300.7 L1313.7,298.9 L1314.4,297.0 L1315.2,295.1 L1315.9,293.3 L1316.6,291.4 L1317.3,289.5 L1318.0,287.7 L1318.8,285.8 L1319.5,283.9 L1320.2,282.1 L1320.9,280.2 L1321.6,278.3 L1322.4,276.5 L1323.1,274.6 L1323.8,272.7 L1324.5,270.9 L1325.2,269.0 L1325.9,267.1 L1326.6,265.2 L1327.3,263.4 L1328.0,261.5 L1328.7,259.6 L1329.3,257.7 L1330.0,255.8 L1330.6,253.9 L1331.3,252.1 L1331.9,250.2 L1332.6,248.3 L1333.2,246.4 L1333.9,244.5 L1334.6,242.6 L1335.2,240.7 L1335.9,238.8 L1336.6,236.9 L1337.3,235.1 L1337.9,233.2 L1338.6,231.3 L1339.4,229.5 L1340.1,227.6 L1340.8,225.7 L1341.6,223.9 L1342.3,222.0 L1343.1,220.2 L1343.9,218.3 L1344.7,216.5 L1345.5,214.7 L1346.3,212.8 L1347.1,211.0 L1347.9,209.2 L1348.8,207.4 L1349.6,205.6 L1350.5,203.8 L1351.4,202.0 L1352.2,200.2 L1353.1,198.4 L1353.9,196.6 L1354.8,194.8 L1355.7,193.0 L1356.5,191.2 L1357.4,189.4 L1358.3,187.6 L1359.2,185.8 L1360.1,184.0 L1361.1,182.2 L1362.0,180.5 L1362.9,178.7 L1363.9,176.9 L1364.8,175.2 L1365.8,173.4 L1366.8,171.7 L1367.7,169.9 L1368.7,168.2 L1369.7,166.5 L1370.7,164.7 L1371.7,163.0 L1372.8,161.3 L1373.8,159.6 L1374.8,157.9 L1375.9,156.2 L1377.0,154.5 L1378.1,152.9 L1379.3,151.2 L1380.4,149.6 L1381.6,148.0 L1382.9,146.4 L1384.1,144.9 L1385.4,143.4 L1386.8,141.9 L1388.1,140.4 L1389.5,139.0 L1390.9,137.6 L1392.3,136.2 L1393.8,134.8 L1395.2,133.5 L1396.7,132.1 L1398.2,130.8 L1399.7,129.4 L1401.2,128.1 L1402.7,126.8 L1404.3,125.6 L1405.8,124.4 L1407.4,123.2 L1409.0,122.1 L1410.7,121.1 L1412.5,120.2 L1414.3,119.7 L1416.3,119.4 L1418.3,119.3 L1420.3,119.2 L1422.3,119.1 L1424.2,119.0 L1426.1,118.6 L1427.8,117.7 L1429.4,116.6 L1431.2,115.9 L1433.2,115.5 L1435.2,115.4 L1437.2,115.4 L1439.2,115.6 L1441.1,115.9 L1443.1,116.3 L1445.0,117.0 L1446.8,117.8 L1448.4,119.0 L1449.8,120.3 L1451.3,121.7 L1452.7,123.2 L1454.0,124.6 L1455.4,126.1 L1456.7,127.6 L1458.1,129.1 L1459.4,130.6 L1460.6,132.1 L1461.9,133.7 L1463.1,135.3 L1464.2,136.9 L1465.3,138.6 L1466.4,140.3 L1467.4,142.0 L1468.4,143.8 L1469.3,145.5 L1470.2,147.3 L1471.2,149.1 L1472.1,150.8 L1473.1,152.6 L1474.0,154.4 L1475.0,156.1 L1475.9,157.9 L1476.9,159.6 L1477.7,161.4 L1478.6,163.2 L1479.3,165.1 L1480.0,166.9 L1480.7,168.8 L1481.4,170.7 L1482.0,172.6 L1482.6,174.5 L1483.2,176.4 L1483.8,178.3 L1484.4,180.2 L1485.0,182.1 L1485.6,184.0 L1486.1,186.0 L1486.7,187.9 L1487.3,189.8 L1487.8,191.7 L1488.4,193.6 L1489.0,195.6 L1489.5,197.5 L1490.0,199.4 L1490.6,201.3 L1491.1,203.3 L1491.6,205.2 L1492.1,207.1 L1492.6,209.1 L1493.1,211.0 L1493.6,212.9 L1494.1,214.9 L1494.6,216.8 L1495.0,218.8 L1495.5,220.7 L1496.0,222.6 L1496.5,224.6 L1497.0,226.5 L1497.5,228.5 L1497.9,230.4 L1498.4,232.4 L1498.9,234.3 L1499.3,236.2 L1499.8,238.2 L1500.2,240.1 L1500.7,242.1 L1501.1,244.0 L1501.6,246.0 L1502.0,247.9 L1502.4,249.9 L1502.9,251.9 L1503.3,253.8 L1503.7,255.8 L1504.1,257.7 L1504.4,259.7 L1504.8,261.7 L1505.2,263.6 L1505.5,265.6 L1505.9,267.6 L1506.2,269.5 L1506.5,271.5 L1506.8,273.5 L1507.1,275.5 L1507.5,277.4 L1507.8,279.4 L1508.1,281.4 L1508.4,283.4 L1508.7,285.3 L1509.0,287.3 L1509.4,289.3 L1509.7,291.3 L1510.0,293.2 L1510.4,295.2 L1510.8,297.2 L1511.1,299.1 L1511.5,301.1 L1511.9,303.0 L1512.3,305.0 L1512.7,307.0 L1513.1,308.9 L1513.5,310.9 L1513.9,312.8 L1514.3,314.8 L1514.8,316.8 L1515.2,318.7 L1515.6,320.7 L1516.0,322.6 L1516.5,324.6 L1516.9,326.5 L1517.4,328.5 L1517.8,330.4 L1518.3,332.4 L1518.7,334.3 L1519.2,336.3 L1519.6,338.2 L1520.0,340.2 L1520.5,342.1 L1520.9,344.1 L1521.3,346.0 L1521.7,348.0 L1522.1,349.9 L1522.5,351.9 L1522.9,353.9 L1523.3,355.8 L1523.7,357.8 L1524.0,359.8 L1524.4,361.7 L1524.8,363.7 L1525.1,365.7 L1525.5,367.6 L1525.9,369.6 L1526.3,371.5 L1526.6,373.5 L1527.0,375.5 L1527.4,377.4 L1527.9,379.4 L1528.3,381.3 L1528.7,383.3 L1529.2,385.2 L1529.6,387.2 L1530.1,389.1 L1530.5,391.1 L1531.0,393.0 L1531.5,395.0 L1531.9,396.9 L1532.4,398.9 L1532.8,400.8 L1533.2,402.8 L1533.7,404.7 L1534.1,406.7 L1534.5,408.6 L1534.9,410.6 L1535.3,412.5 L1535.7,414.5 L1536.1,416.5 L1536.6,418.4 L1537.0,420.4 L1537.4,422.3 L1537.8,424.3 L1538.3,426.2 L1538.8,428.2 L1539.3,430.1 L1539.8,432.0 L1540.3,434.0 L1540.9,435.9 L1541.4,437.8 L1542.0,439.7 L1542.6,441.6 L1543.2,443.5 L1543.9,445.4 L1544.5,447.3 L1545.2,449.2 L1545.8,451.1 L1546.5,453.0 L1547.1,454.9 L1547.8,456.8 L1548.4,458.7 L1549.1,460.5 L1549.7,462.4 L1550.3,464.3 L1551.0,466.2 L1551.6,468.1 L1552.3,470.0 L1552.9,471.9 L1553.5,473.8 L1554.2,475.7 L1554.8,477.6 L1555.5,479.5 L1556.1,481.4 L1556.7,483.3 L1557.4,485.2 L1558.0,487.1 L1558.7,489.0 L1559.3,490.9 L1559.9,492.8 L1560.6,494.7 L1561.2,496.6 L1561.9,498.4 L1562.5,500.3 L1563.1,502.2 L1563.7,504.1 L1564.4,506.0 L1565.0,507.9 L1565.6,509.9 L1566.1,511.8 L1566.7,513.7 L1567.3,515.6 L1567.8,517.5 L1568.4,519.4 L1568.9,521.4 L1569.5,523.3 L1570.0,525.2 L1570.5,527.2 L1571.0,529.1 L1571.6,531.0 L1572.1,533.0 L1572.6,534.9 L1573.1,536.8 L1573.6,538.7 L1574.1,540.7 L1574.7,542.6 L1575.2,544.5 L1575.7,546.5 L1576.2,548.4 L1576.8,550.3 L1577.3,552.3 L1577.8,554.2 L1578.4,556.1 L1578.9,558.0 L1579.5,560.0 L1580.0,561.9 L1580.6,563.8 L1581.2,565.7 L1581.7,567.6 L1582.3,569.5 L1582.9,571.4 L1583.6,573.3 L1584.2,575.2 L1584.9,577.1 L1585.5,579.0 L1586.2,580.9 L1587.0,582.7 L1587.7,584.6 L1588.5,586.4 L1589.4,588.2 L1590.2,590.0 L1591.1,591.8 L1592.0,593.6 L1592.9,595.4 L1593.9,597.1 L1594.9,598.9 L1595.9,600.6 L1596.9,602.3 L1598.0,604.0 L1599.1,605.6 L1600.2,607.3 L1601.3,608.9 L1602.5,610.6 L1603.7,612.2 L1604.9,613.7 L1606.2,615.3 L1607.4,616.8 L1608.8,618.3 L1610.1,619.8 L1611.5,621.3 L1612.9,622.7 L1614.3,624.0 L1615.8,625.4 L1617.3,626.7 L1618.9,627.9 L1620.5,629.1 L1622.1,630.2 L1623.7,631.3 L1625.4,632.4 L1627.2,633.4 L1628.9,634.3 L1630.7,635.2 L1632.5,636.0 L1634.3,636.8 L1636.2,637.5 L1638.1,638.2 L1639.9,638.9 L1641.8,639.5 L1643.8,640.1 L1645.7,640.6 L1647.6,641.1 L1649.6,641.5 L1651.5,642.0 L1653.5,642.3 L1655.4,642.7 L1657.4,643.0 L1659.4,643.4 L1661.3,643.7 L1663.3,643.9 L1665.3,644.2 L1667.3,644.4 L1669.3,644.7 L1671.3,644.9 L1673.3,645.1 L1675.2,645.3 L1677.2,645.5 L1679.2,645.7 L1681.2,645.8 L1683.2,646.0 L1685.2,646.2 L1687.2,646.3 L1689.2,646.5 L1691.2,646.7 L1693.2,646.8 L1695.2,647.0 L1697.2,647.1 L1699.2,647.3 L1701.2,647.4 L1703.2,647.5 L1705.1,647.6 L1707.1,647.8 L1709.1,647.9 L1711.1,648.0 L1713.1,648.1 L1715.1,648.2 L1717.1,648.2 L1719.1,648.3 L1721.0,648.4 L1723.0,648.5 L1724.9,648.5 L1726.7,648.6 L1728.5,648.6 L1729.4,648.7"/>
</g>
<line x1="519" y1="385" x2="519" y2="990" stroke="#000" stroke-width="4" stroke-dasharray="3.15 2.1294" shape-rendering="crispEdges"/>
<line x1="646.5" y1="488" x2="646.5" y2="881" stroke="#000" stroke-width="3" stroke-dasharray="3.15 2.1182" shape-rendering="crispEdges"/>
<line x1="1465" y1="78" x2="1465" y2="851" stroke="#000" stroke-width="4" stroke-dasharray="3.15 2.1593" shape-rendering="crispEdges"/>
<text class="tick" x="220.9" y="1355.4">100</text>
<text class="tick" x="397.9" y="1355.4">200</text>
<text class="tick" x="574.9" y="1355.4">300</text>
<text class="tick" x="751.9" y="1355.4">400</text>
<text class="tick" x="928.9" y="1355.4">500</text>
<text class="tick" x="1106.0" y="1355.4">600</text>
<text class="tick" x="1283.0" y="1355.4">700</text>
<text class="tick" x="1460.0" y="1355.4">800</text>
<text class="tick" x="1637.0" y="1355.4">900</text>
<text transform="translate(627.60,1414.00) scale(0.9790,1)" font-size="57.2px" dx="0,0,0,0,0,0,0,0,0,0,0,0,0,0,0,0,0,0,0,0,0,-1.7,-0.8,1.2" dy="0,0,0,0,0,0,0,0,0,0,0,0,0,0,0,0,0,0,0,0,0,-3.6,3.6,0">Heating temperature (°C)</text>
<text transform="translate(72.80,963.90) rotate(-90) scale(0.9992,1)" font-size="57.2px" aria-label="H2 consumption (a.u.)">H<tspan font-size="39px" dy="15">2</tspan><tspan dy="-15"> consumption (a.u.)</tspan></text>
<text transform="translate(114.30,600.20) scale(0.9970,1)" font-size="45.4px" aria-label="NH4Cl/NCML">NH<tspan font-size="31.4px" dy="11.8">4</tspan><tspan dy="-11.8">Cl/NCML</tspan></text>
<text transform="translate(118.10,791.00) scale(0.9990,1)" font-size="45.4px">NaCl/NCML</text>
<text transform="translate(118.10,957.30) scale(0.9900,1)" font-size="45.4px">KCl/NCML</text>
<text transform="translate(128.00,1225.10) scale(1.0060,1)" font-size="46.5px">NCML</text>
<text transform="translate(471.50,385.00) scale(1.0000,1)" font-size="44.3px" dx="0,0,0,-1.4,-2.5" dy="0,0,0,-2.2,2.2">269°C</text>
<text transform="translate(623.00,472.00) scale(1.0000,1)" font-size="44.3px" dx="0,0,0,-1.7,-3.1" dy="0,0,0,-2.2,2.2">340°C</text>
<text transform="translate(1410.00,917.10) scale(1.0000,1)" font-size="44.3px" dx="0,-1,-1,-1,-2.6" dy="0,0,0,-2.2,2.2">803°C</text>
</svg></body></html>
